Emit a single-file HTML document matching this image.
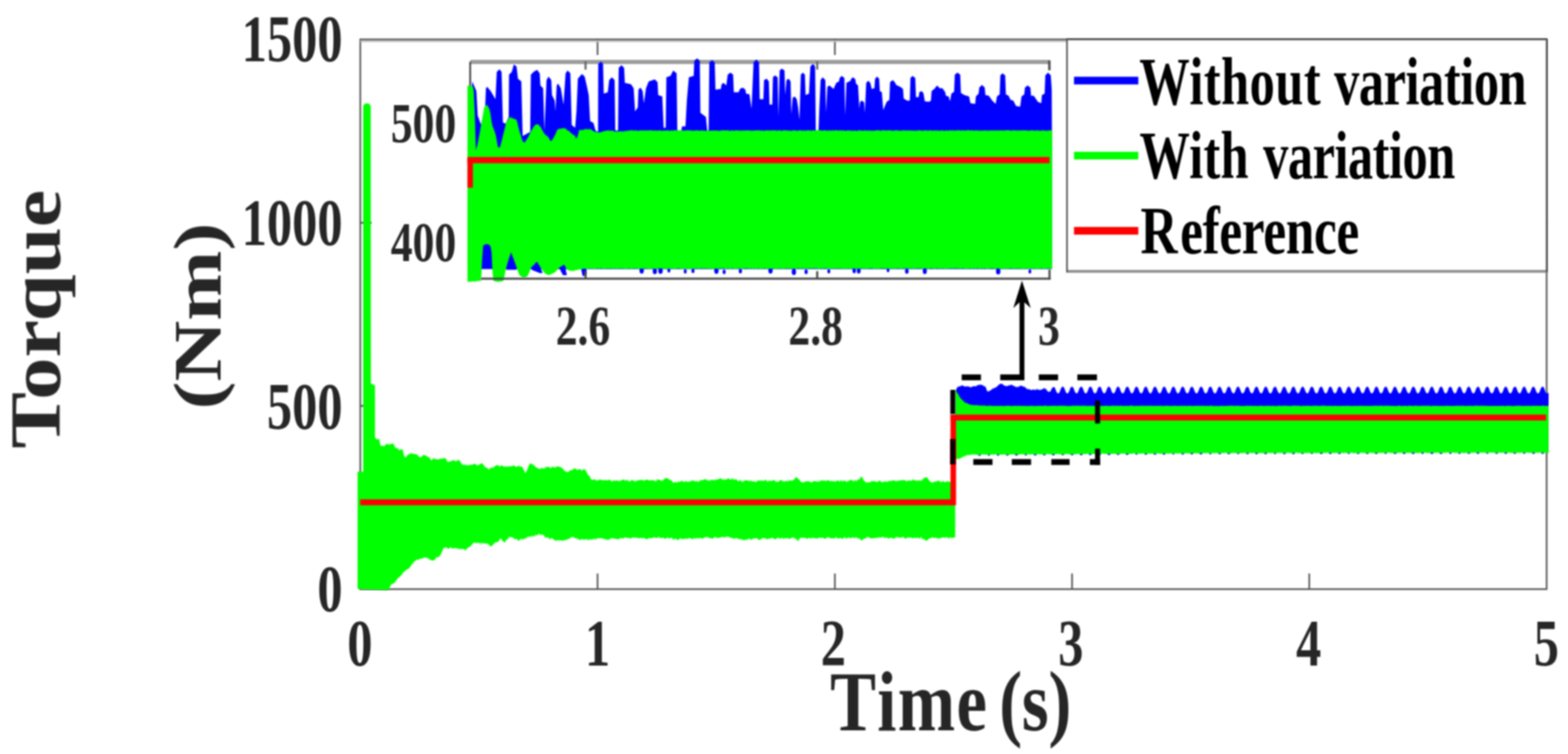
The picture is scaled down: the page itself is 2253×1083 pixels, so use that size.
<!DOCTYPE html>
<html lang="en"><head><meta charset="utf-8"><title>Torque vs Time</title>
<style>html,body{margin:0;padding:0;background:#fff;overflow:hidden}body{width:2253px;height:1083px}</style></head>
<body>
<svg width="2253" height="1083" viewBox="0 0 2253 1083" style="display:block">
<defs>
<filter id="fd" filterUnits="userSpaceOnUse" x="0" y="0" width="2253" height="1083" color-interpolation-filters="sRGB"><feGaussianBlur stdDeviation="0.90"/></filter>
<filter id="fa" filterUnits="userSpaceOnUse" x="0" y="0" width="2253" height="1083" color-interpolation-filters="sRGB"><feGaussianBlur stdDeviation="0.80"/></filter>
<filter id="ft" filterUnits="userSpaceOnUse" x="0" y="0" width="2253" height="1083" color-interpolation-filters="sRGB"><feGaussianBlur stdDeviation="0.90"/></filter>
</defs>
<rect width="2253" height="1083" fill="#fff"/>
<g filter="url(#fa)" fill="none" stroke="#505050" stroke-width="2.3">
<rect x="517.7" y="56.6" width="1704.6" height="789.6"/>
<path d="M858.6,56.6v22.5 M858.6,846.2v-22.5"/>
<path d="M1199.6,56.6v22.5 M1199.6,846.2v-22.5"/>
<path d="M1540.4,56.6v22.5 M1540.4,846.2v-22.5"/>
<path d="M1881.2,56.6v22.5 M1881.2,846.2v-22.5"/>
<path d="M517.7,320.0h16 M2222.3,320.0h-16"/>
<path d="M517.7,583.0h16 M2222.3,583.0h-16"/>
<path d="M517.7,59.3H2222" stroke="#c4c4c4" stroke-width="2.6"/>
</g>
<g filter="url(#fd)">
<path fill="#0000ff" d="M1373.0,562.2 L1374.5,558.2 L1376.0,555.4 L1377.5,555.4 L1379.0,554.8 L1380.5,554.8 L1382.0,553.2 L1383.5,553.8 L1385.0,554.9 L1386.5,554.7 L1388.0,555.4 L1389.5,554.4 L1391.0,555.3 L1392.5,555.2 L1394.0,556.0 L1395.5,556.4 L1397.0,555.0 L1398.5,554.9 L1400.0,554.5 L1401.5,555.1 L1403.0,554.4 L1404.5,553.0 L1406.0,553.6 L1407.5,552.1 L1409.0,553.0 L1410.5,552.7 L1412.0,553.0 L1413.5,554.9 L1415.0,554.4 L1416.5,556.5 L1418.0,560.8 L1419.5,563.0 L1421.0,561.2 L1422.5,561.4 L1424.0,559.8 L1425.5,559.2 L1427.0,557.6 L1428.5,557.9 L1430.0,556.6 L1431.5,556.1 L1433.0,555.0 L1434.5,553.1 L1436.0,552.3 L1437.5,551.0 L1439.0,551.2 L1440.5,551.8 L1442.0,552.9 L1443.5,554.2 L1445.0,554.0 L1446.5,555.0 L1448.0,553.9 L1449.5,553.4 L1451.0,553.7 L1452.5,552.6 L1454.0,552.7 L1455.5,553.7 L1457.0,554.8 L1458.5,554.5 L1460.0,556.8 L1461.5,555.2 L1463.0,555.8 L1464.5,555.5 L1466.0,553.6 L1467.5,554.4 L1469.0,554.2 L1470.5,555.5 L1472.0,555.6 L1473.5,556.7 L1475.0,557.9 L1476.5,559.6 L1478.0,558.5 L1479.5,559.6 L1481.0,560.0 L1482.5,560.2 L1484.0,559.4 L1485.5,559.5 L1487.0,559.9 L1488.0,560.4 L1488.8,558.9 L1489.5,558.4 L1490.2,559.9 L1491.0,558.6 L1491.8,560.1 L1492.5,559.9 L1493.2,559.4 L1494.0,560.6 L1494.8,559.6 L1495.5,560.4 L1496.2,559.4 L1497.0,559.0 L1497.8,559.0 L1498.5,559.2 L1499.2,557.4 L1500.0,557.4 L1500.8,558.0 L1501.5,558.6 L1502.2,558.3 L1503.0,558.6 L1503.8,560.6 L1504.5,560.4 L1505.2,562.4 L1506.0,562.3 L1506.8,562.6 L1507.5,562.7 L1508.2,562.7 L1509.0,562.6 L1509.8,561.1 L1510.5,559.7 L1511.2,558.3 L1512.0,557.0 L1512.8,556.4 L1513.5,555.7 L1514.2,555.8 L1515.0,556.3 L1515.8,557.3 L1516.5,558.7 L1517.2,561.0 L1518.0,562.8 L1518.8,564.0 L1519.5,564.8 L1520.2,565.1 L1521.0,564.9 L1521.8,564.2 L1522.5,563.1 L1523.2,561.5 L1524.0,559.0 L1524.8,557.4 L1525.5,556.2 L1526.2,555.5 L1527.0,555.3 L1527.8,555.6 L1528.5,556.3 L1529.2,557.6 L1530.0,559.3 L1530.8,561.7 L1531.5,563.2 L1532.2,564.3 L1533.0,565.0 L1533.8,565.1 L1534.5,564.7 L1535.2,563.9 L1536.0,562.6 L1536.8,560.8 L1537.5,558.4 L1538.2,556.9 L1539.0,555.9 L1539.8,555.4 L1540.5,555.3 L1541.2,555.8 L1542.0,556.7 L1542.8,558.0 L1543.5,560.1 L1544.2,562.3 L1545.0,563.6 L1545.8,564.6 L1546.5,565.0 L1547.2,565.0 L1548.0,564.5 L1548.8,563.5 L1549.5,562.1 L1550.2,559.8 L1551.0,557.9 L1551.8,556.6 L1552.5,555.7 L1553.2,555.3 L1554.0,555.4 L1554.8,556.0 L1555.5,557.1 L1556.2,558.6 L1557.0,561.0 L1557.8,562.7 L1558.5,564.0 L1559.2,564.8 L1560.0,565.1 L1560.8,564.9 L1561.5,564.2 L1562.2,563.1 L1563.0,561.5 L1563.8,559.1 L1564.5,557.4 L1565.2,556.2 L1566.0,555.5 L1566.8,555.3 L1567.5,555.6 L1568.2,556.3 L1569.0,557.5 L1569.8,559.2 L1570.5,561.6 L1571.2,563.2 L1572.0,564.3 L1572.8,564.9 L1573.5,565.1 L1574.2,564.8 L1575.0,563.9 L1575.8,562.7 L1576.5,560.9 L1577.2,558.5 L1578.0,557.0 L1578.8,556.0 L1579.5,555.4 L1580.2,555.3 L1581.0,555.7 L1581.8,556.6 L1582.5,558.0 L1583.2,559.9 L1584.0,562.2 L1584.8,563.6 L1585.5,564.6 L1586.2,565.0 L1587.0,565.0 L1587.8,564.5 L1588.5,563.6 L1589.2,562.2 L1590.0,559.9 L1590.8,558.0 L1591.5,556.6 L1592.2,555.7 L1593.0,555.3 L1593.8,555.4 L1594.5,556.0 L1595.2,557.0 L1596.0,558.5 L1596.8,560.9 L1597.5,562.7 L1598.2,564.0 L1599.0,564.8 L1599.8,565.1 L1600.5,564.9 L1601.2,564.3 L1602.0,563.2 L1602.8,561.6 L1603.5,559.2 L1604.2,557.5 L1605.0,556.3 L1605.8,555.6 L1606.5,555.3 L1607.2,555.5 L1608.0,556.3 L1608.8,557.4 L1609.5,559.1 L1610.2,561.6 L1611.0,563.1 L1611.8,564.3 L1612.5,564.9 L1613.2,565.1 L1614.0,564.8 L1614.8,564.0 L1615.5,562.7 L1616.2,561.0 L1617.0,558.6 L1617.8,557.0 L1618.5,556.0 L1619.2,555.4 L1620.0,555.3 L1620.8,555.7 L1621.5,556.6 L1622.2,557.9 L1623.0,559.8 L1623.8,562.1 L1624.5,563.5 L1625.2,564.5 L1626.0,565.0 L1626.8,565.0 L1627.5,564.6 L1628.2,563.6 L1629.0,562.2 L1629.8,560.0 L1630.5,558.0 L1631.2,556.7 L1632.0,555.8 L1632.8,555.3 L1633.5,555.4 L1634.2,555.9 L1635.0,557.0 L1635.8,558.4 L1636.5,560.8 L1637.2,562.6 L1638.0,563.9 L1638.8,564.7 L1639.5,565.1 L1640.2,564.9 L1641.0,564.3 L1641.8,563.2 L1642.5,561.7 L1643.2,559.2 L1644.0,557.5 L1644.8,556.3 L1645.5,555.6 L1646.2,555.3 L1647.0,555.5 L1647.8,556.2 L1648.5,557.4 L1649.2,559.0 L1650.0,561.5 L1650.8,563.1 L1651.5,564.2 L1652.2,564.9 L1653.0,565.1 L1653.8,564.8 L1654.5,564.0 L1655.2,562.8 L1656.0,561.0 L1656.8,558.6 L1657.5,557.1 L1658.2,556.0 L1659.0,555.4 L1659.8,555.3 L1660.5,555.7 L1661.2,556.5 L1662.0,557.9 L1662.8,559.7 L1663.5,562.1 L1664.2,563.5 L1665.0,564.5 L1665.8,565.0 L1666.5,565.1 L1667.2,564.6 L1668.0,563.7 L1668.8,562.3 L1669.5,560.2 L1670.2,558.1 L1671.0,556.7 L1671.8,555.8 L1672.5,555.3 L1673.2,555.4 L1674.0,555.9 L1674.8,556.9 L1675.5,558.4 L1676.2,560.7 L1677.0,562.6 L1677.8,563.9 L1678.5,564.7 L1679.2,565.1 L1680.0,565.0 L1680.8,564.4 L1681.5,563.3 L1682.2,561.7 L1683.0,559.3 L1683.8,557.6 L1684.5,556.4 L1685.2,555.6 L1686.0,555.3 L1686.8,555.5 L1687.5,556.2 L1688.2,557.3 L1689.0,558.9 L1689.8,561.4 L1690.5,563.0 L1691.2,564.2 L1692.0,564.9 L1692.8,565.1 L1693.5,564.8 L1694.2,564.1 L1695.0,562.8 L1695.8,561.1 L1696.5,558.7 L1697.2,557.2 L1698.0,556.1 L1698.8,555.4 L1699.5,555.3 L1700.2,555.7 L1701.0,556.5 L1701.8,557.8 L1702.5,559.6 L1703.2,562.0 L1704.0,563.5 L1704.8,564.5 L1705.5,565.0 L1706.2,565.1 L1707.0,564.6 L1707.8,563.7 L1708.5,562.4 L1709.2,560.3 L1710.0,558.1 L1710.8,556.8 L1711.5,555.8 L1712.2,555.4 L1713.0,555.4 L1713.8,555.9 L1714.5,556.9 L1715.2,558.3 L1716.0,560.6 L1716.8,562.5 L1717.5,563.8 L1718.2,564.7 L1719.0,565.1 L1719.8,565.0 L1720.5,564.4 L1721.2,563.3 L1722.0,561.8 L1722.8,559.4 L1723.5,557.7 L1724.2,556.4 L1725.0,555.6 L1725.8,555.3 L1726.5,555.5 L1727.2,556.2 L1728.0,557.3 L1728.8,558.9 L1729.5,561.3 L1730.2,563.0 L1731.0,564.2 L1731.8,564.9 L1732.5,565.1 L1733.2,564.8 L1734.0,564.1 L1734.8,562.9 L1735.5,561.2 L1736.2,558.8 L1737.0,557.2 L1737.8,556.1 L1738.5,555.5 L1739.2,555.3 L1740.0,555.6 L1740.8,556.5 L1741.5,557.7 L1742.2,559.5 L1743.0,561.9 L1743.8,563.4 L1744.5,564.4 L1745.2,565.0 L1746.0,565.1 L1746.8,564.7 L1747.5,563.8 L1748.2,562.4 L1749.0,560.5 L1749.8,558.2 L1750.5,556.8 L1751.2,555.8 L1752.0,555.4 L1752.8,555.4 L1753.5,555.9 L1754.2,556.8 L1755.0,558.2 L1755.8,560.5 L1756.5,562.4 L1757.2,563.8 L1758.0,564.7 L1758.8,565.1 L1759.5,565.0 L1760.2,564.4 L1761.0,563.4 L1761.8,561.9 L1762.5,559.5 L1763.2,557.7 L1764.0,556.4 L1764.8,555.6 L1765.5,555.3 L1766.2,555.5 L1767.0,556.1 L1767.8,557.2 L1768.5,558.8 L1769.2,561.2 L1770.0,562.9 L1770.8,564.1 L1771.5,564.8 L1772.2,565.1 L1773.0,564.9 L1773.8,564.1 L1774.5,563.0 L1775.2,561.3 L1776.0,558.8 L1776.8,557.3 L1777.5,556.1 L1778.2,555.5 L1779.0,555.3 L1779.8,555.6 L1780.5,556.4 L1781.2,557.7 L1782.0,559.4 L1782.8,561.8 L1783.5,563.4 L1784.2,564.4 L1785.0,565.0 L1785.8,565.1 L1786.5,564.7 L1787.2,563.8 L1788.0,562.5 L1788.8,560.6 L1789.5,558.3 L1790.2,556.9 L1791.0,555.9 L1791.8,555.4 L1792.5,555.4 L1793.2,555.8 L1794.0,556.8 L1794.8,558.2 L1795.5,560.4 L1796.2,562.4 L1797.0,563.7 L1797.8,564.6 L1798.5,565.1 L1799.2,565.0 L1800.0,564.5 L1800.8,563.4 L1801.5,562.0 L1802.2,559.6 L1803.0,557.8 L1803.8,556.5 L1804.5,555.7 L1805.2,555.3 L1806.0,555.5 L1806.8,556.1 L1807.5,557.2 L1808.2,558.7 L1809.0,561.2 L1809.8,562.9 L1810.5,564.1 L1811.2,564.8 L1812.0,565.1 L1812.8,564.9 L1813.5,564.2 L1814.2,563.0 L1815.0,561.4 L1815.8,558.9 L1816.5,557.3 L1817.2,556.2 L1818.0,555.5 L1818.8,555.3 L1819.5,555.6 L1820.2,556.4 L1821.0,557.6 L1821.8,559.4 L1822.5,561.8 L1823.2,563.3 L1824.0,564.4 L1824.8,565.0 L1825.5,565.1 L1826.2,564.7 L1827.0,563.9 L1827.8,562.5 L1828.5,560.7 L1829.2,558.3 L1830.0,556.9 L1830.8,555.9 L1831.5,555.4 L1832.2,555.3 L1833.0,555.8 L1833.8,556.7 L1834.5,558.1 L1835.2,560.2 L1836.0,562.3 L1836.8,563.7 L1837.5,564.6 L1838.2,565.1 L1839.0,565.0 L1839.8,564.5 L1840.5,563.5 L1841.2,562.0 L1842.0,559.7 L1842.8,557.8 L1843.5,556.5 L1844.2,555.7 L1845.0,555.3 L1845.8,555.4 L1846.5,556.0 L1847.2,557.1 L1848.0,558.7 L1848.8,561.1 L1849.5,562.8 L1850.2,564.0 L1851.0,564.8 L1851.8,565.1 L1852.5,564.9 L1853.2,564.2 L1854.0,563.1 L1854.8,561.5 L1855.5,559.0 L1856.2,557.4 L1857.0,556.2 L1857.8,555.5 L1858.5,555.3 L1859.2,555.6 L1860.0,556.3 L1860.8,557.6 L1861.5,559.3 L1862.2,561.7 L1863.0,563.2 L1863.8,564.3 L1864.5,565.0 L1865.2,565.1 L1866.0,564.7 L1866.8,563.9 L1867.5,562.6 L1868.2,560.8 L1869.0,558.4 L1869.8,556.9 L1870.5,555.9 L1871.2,555.4 L1872.0,555.3 L1872.8,555.8 L1873.5,556.7 L1874.2,558.0 L1875.0,560.1 L1875.8,562.3 L1876.5,563.6 L1877.2,564.6 L1878.0,565.0 L1878.8,565.0 L1879.5,564.5 L1880.2,563.5 L1881.0,562.1 L1881.8,559.8 L1882.5,557.9 L1883.2,556.6 L1884.0,555.7 L1884.8,555.3 L1885.5,555.4 L1886.2,556.0 L1887.0,557.1 L1887.8,558.6 L1888.5,561.0 L1889.2,562.7 L1890.0,564.0 L1890.8,564.8 L1891.5,565.1 L1892.2,564.9 L1893.0,564.2 L1893.8,563.1 L1894.5,561.5 L1895.2,559.1 L1896.0,557.4 L1896.8,556.2 L1897.5,555.5 L1898.2,555.3 L1899.0,555.6 L1899.8,556.3 L1900.5,557.5 L1901.2,559.2 L1902.0,561.6 L1902.8,563.2 L1903.5,564.3 L1904.2,564.9 L1905.0,565.1 L1905.8,564.8 L1906.5,563.9 L1907.2,562.7 L1908.0,560.9 L1908.8,558.5 L1909.5,557.0 L1910.2,556.0 L1911.0,555.4 L1911.8,555.3 L1912.5,555.7 L1913.2,556.6 L1914.0,558.0 L1914.8,559.9 L1915.5,562.2 L1916.2,563.6 L1917.0,564.6 L1917.8,565.0 L1918.5,565.0 L1919.2,564.5 L1920.0,563.6 L1920.8,562.2 L1921.5,559.9 L1922.2,558.0 L1923.0,556.6 L1923.8,555.7 L1924.5,555.3 L1925.2,555.4 L1926.0,556.0 L1926.8,557.0 L1927.5,558.5 L1928.2,560.9 L1929.0,562.7 L1929.8,564.0 L1930.5,564.8 L1931.2,565.1 L1932.0,564.9 L1932.8,564.3 L1933.5,563.2 L1934.2,561.6 L1935.0,559.2 L1935.8,557.5 L1936.5,556.3 L1937.2,555.6 L1938.0,555.3 L1938.8,555.5 L1939.5,556.3 L1940.2,557.4 L1941.0,559.1 L1941.8,561.6 L1942.5,563.1 L1943.2,564.3 L1944.0,564.9 L1944.8,565.1 L1945.5,564.8 L1946.2,564.0 L1947.0,562.7 L1947.8,561.0 L1948.5,558.6 L1949.2,557.0 L1950.0,556.0 L1950.8,555.4 L1951.5,555.3 L1952.2,555.7 L1953.0,556.6 L1953.8,557.9 L1954.5,559.8 L1955.2,562.1 L1956.0,563.5 L1956.8,564.5 L1957.5,565.0 L1958.2,565.0 L1959.0,564.6 L1959.8,563.6 L1960.5,562.2 L1961.2,560.0 L1962.0,558.0 L1962.8,556.7 L1963.5,555.8 L1964.2,555.3 L1965.0,555.4 L1965.8,555.9 L1966.5,557.0 L1967.2,558.4 L1968.0,560.8 L1968.8,562.6 L1969.5,563.9 L1970.2,564.7 L1971.0,565.1 L1971.8,564.9 L1972.5,564.3 L1973.2,563.2 L1974.0,561.7 L1974.8,559.2 L1975.5,557.5 L1976.2,556.3 L1977.0,555.6 L1977.8,555.3 L1978.5,555.5 L1979.2,556.2 L1980.0,557.4 L1980.8,559.0 L1981.5,561.5 L1982.2,563.1 L1983.0,564.2 L1983.8,564.9 L1984.5,565.1 L1985.2,564.8 L1986.0,564.0 L1986.8,562.8 L1987.5,561.0 L1988.2,558.6 L1989.0,557.1 L1989.8,556.0 L1990.5,555.4 L1991.2,555.3 L1992.0,555.7 L1992.8,556.5 L1993.5,557.9 L1994.2,559.7 L1995.0,562.1 L1995.8,563.5 L1996.5,564.5 L1997.2,565.0 L1998.0,565.1 L1998.8,564.6 L1999.5,563.7 L2000.2,562.3 L2001.0,560.2 L2001.8,558.1 L2002.5,556.7 L2003.2,555.8 L2004.0,555.3 L2004.8,555.4 L2005.5,555.9 L2006.2,556.9 L2007.0,558.4 L2007.8,560.7 L2008.5,562.6 L2009.2,563.9 L2010.0,564.7 L2010.8,565.1 L2011.5,565.0 L2012.2,564.4 L2013.0,563.3 L2013.8,561.7 L2014.5,559.3 L2015.2,557.6 L2016.0,556.4 L2016.8,555.6 L2017.5,555.3 L2018.2,555.5 L2019.0,556.2 L2019.8,557.3 L2020.5,558.9 L2021.2,561.4 L2022.0,563.0 L2022.8,564.2 L2023.5,564.9 L2024.2,565.1 L2025.0,564.8 L2025.8,564.1 L2026.5,562.8 L2027.2,561.1 L2028.0,558.7 L2028.8,557.2 L2029.5,556.1 L2030.2,555.4 L2031.0,555.3 L2031.8,555.7 L2032.5,556.5 L2033.2,557.8 L2034.0,559.6 L2034.8,562.0 L2035.5,563.5 L2036.2,564.5 L2037.0,565.0 L2037.8,565.1 L2038.5,564.6 L2039.2,563.7 L2040.0,562.4 L2040.8,560.3 L2041.5,558.1 L2042.2,556.8 L2043.0,555.8 L2043.8,555.4 L2044.5,555.4 L2045.2,555.9 L2046.0,556.9 L2046.8,558.3 L2047.5,560.6 L2048.2,562.5 L2049.0,563.8 L2049.8,564.7 L2050.5,565.1 L2051.2,565.0 L2052.0,564.4 L2052.8,563.3 L2053.5,561.8 L2054.2,559.4 L2055.0,557.7 L2055.8,556.4 L2056.5,555.6 L2057.2,555.3 L2058.0,555.5 L2058.8,556.2 L2059.5,557.3 L2060.2,558.9 L2061.0,561.3 L2061.8,563.0 L2062.5,564.2 L2063.2,564.9 L2064.0,565.1 L2064.8,564.8 L2065.5,564.1 L2066.2,562.9 L2067.0,561.2 L2067.8,558.8 L2068.5,557.2 L2069.2,556.1 L2070.0,555.5 L2070.8,555.3 L2071.5,555.6 L2072.2,556.5 L2073.0,557.7 L2073.8,559.5 L2074.5,561.9 L2075.2,563.4 L2076.0,564.4 L2076.8,565.0 L2077.5,565.1 L2078.2,564.7 L2079.0,563.8 L2079.8,562.4 L2080.5,560.5 L2081.2,558.2 L2082.0,556.8 L2082.8,555.8 L2083.5,555.4 L2084.2,555.4 L2085.0,555.9 L2085.8,556.8 L2086.5,558.2 L2087.2,560.5 L2088.0,562.4 L2088.8,563.8 L2089.5,564.7 L2090.2,565.1 L2091.0,565.0 L2091.8,564.4 L2092.5,563.4 L2093.2,561.9 L2094.0,559.5 L2094.8,557.7 L2095.5,556.4 L2096.2,555.6 L2097.0,555.3 L2097.8,555.5 L2098.5,556.1 L2099.2,557.2 L2100.0,558.8 L2100.8,561.2 L2101.5,562.9 L2102.2,564.1 L2103.0,564.8 L2103.8,565.1 L2104.5,564.9 L2105.2,564.1 L2106.0,563.0 L2106.8,561.3 L2107.5,558.8 L2108.2,557.3 L2109.0,556.1 L2109.8,555.5 L2110.5,555.3 L2111.2,555.6 L2112.0,556.4 L2112.8,557.7 L2113.5,559.4 L2114.2,561.8 L2115.0,563.4 L2115.8,564.4 L2116.5,565.0 L2117.2,565.1 L2118.0,564.7 L2118.8,563.8 L2119.5,562.5 L2120.2,560.6 L2121.0,558.3 L2121.8,556.9 L2122.5,555.9 L2123.2,555.4 L2124.0,555.4 L2124.8,555.8 L2125.5,556.8 L2126.2,558.2 L2127.0,560.4 L2127.8,562.4 L2128.5,563.7 L2129.2,564.6 L2130.0,565.1 L2130.8,565.0 L2131.5,564.5 L2132.2,563.4 L2133.0,562.0 L2133.8,559.6 L2134.5,557.8 L2135.2,556.5 L2136.0,555.7 L2136.8,555.3 L2137.5,555.5 L2138.2,556.1 L2139.0,557.2 L2139.8,558.7 L2140.5,561.2 L2141.2,562.9 L2142.0,564.1 L2142.8,564.8 L2143.5,565.1 L2144.2,564.9 L2145.0,564.2 L2145.8,563.0 L2146.5,561.4 L2147.2,558.9 L2148.0,557.3 L2148.8,556.2 L2149.5,555.5 L2150.2,555.3 L2151.0,555.6 L2151.8,556.4 L2152.5,557.6 L2153.2,559.4 L2154.0,561.8 L2154.8,563.3 L2155.5,564.4 L2156.2,565.0 L2157.0,565.1 L2157.8,564.7 L2158.5,563.9 L2159.2,562.5 L2160.0,560.7 L2160.8,558.3 L2161.5,556.9 L2162.2,555.9 L2163.0,555.4 L2163.8,555.3 L2164.5,555.8 L2165.2,556.7 L2166.0,558.1 L2166.8,560.2 L2167.5,562.3 L2168.2,563.7 L2169.0,564.6 L2169.8,565.1 L2170.5,565.0 L2171.2,564.5 L2172.0,563.5 L2172.8,562.0 L2173.5,559.7 L2174.2,557.8 L2175.0,556.5 L2175.8,555.7 L2176.5,555.3 L2177.2,555.4 L2178.0,556.0 L2178.8,557.1 L2179.5,558.7 L2180.2,561.1 L2181.0,562.8 L2181.8,564.0 L2182.5,564.8 L2183.2,565.1 L2184.0,564.9 L2184.8,564.2 L2185.5,563.1 L2186.2,561.5 L2187.0,559.0 L2187.8,557.4 L2188.5,556.2 L2189.2,555.5 L2190.0,555.3 L2190.8,555.6 L2191.5,556.3 L2192.2,557.6 L2193.0,559.3 L2193.8,561.7 L2194.5,563.2 L2195.2,564.3 L2196.0,565.0 L2196.8,565.1 L2197.5,564.7 L2198.2,563.9 L2199.0,562.6 L2199.8,560.8 L2200.5,558.4 L2201.2,556.9 L2202.0,555.9 L2202.8,555.4 L2203.5,555.3 L2204.2,555.8 L2205.0,556.7 L2205.8,558.0 L2206.5,560.1 L2207.2,562.3 L2208.0,563.6 L2208.8,564.6 L2209.5,565.0 L2210.2,565.0 L2211.0,564.5 L2211.8,563.5 L2212.5,562.1 L2213.2,559.8 L2214.0,557.9 L2214.8,556.6 L2215.5,555.7 L2216.2,555.3 L2217.0,555.4 L2217.8,556.0 L2218.5,557.1 L2219.2,558.6 L2220.0,561.0 L2220.8,562.7 L2221.5,564.0 L2222.2,564.8 L2223.0,565.1 L2223.8,564.9 L2224.5,564.2 L2225.0,563.5 L2225.0,582.9 L2225.0,649.2 L2224.0,649.2 L2223.0,649.2 L2222.0,649.2 L2221.0,649.2 L2220.0,649.2 L2219.0,649.2 L2218.0,651.7 L2217.0,651.7 L2216.0,651.7 L2215.0,651.7 L2214.0,649.2 L2213.0,649.2 L2212.0,649.2 L2211.0,649.2 L2210.0,649.2 L2209.0,649.2 L2208.0,649.2 L2207.0,649.2 L2206.0,649.2 L2205.0,651.7 L2204.0,651.7 L2203.0,651.7 L2202.0,651.7 L2201.0,649.2 L2200.0,649.2 L2199.0,649.2 L2198.0,649.2 L2197.0,649.2 L2196.0,649.2 L2195.0,649.2 L2194.0,649.2 L2193.0,649.2 L2192.0,649.2 L2191.0,651.7 L2190.0,651.7 L2189.0,651.7 L2188.0,649.2 L2187.0,649.2 L2186.0,649.2 L2185.0,649.3 L2184.0,649.3 L2183.0,649.3 L2182.0,649.3 L2181.0,649.3 L2180.0,649.3 L2179.0,649.3 L2178.0,651.8 L2177.0,651.8 L2176.0,651.8 L2175.0,651.8 L2174.0,649.3 L2173.0,649.3 L2172.0,649.3 L2171.0,649.3 L2170.0,649.3 L2169.0,649.3 L2168.0,649.3 L2167.0,649.3 L2166.0,649.3 L2165.0,651.8 L2164.0,651.8 L2163.0,651.8 L2162.0,651.8 L2161.0,649.3 L2160.0,649.3 L2159.0,649.3 L2158.0,649.3 L2157.0,649.3 L2156.0,649.3 L2155.0,649.3 L2154.0,649.3 L2153.0,649.3 L2152.0,651.8 L2151.0,651.8 L2150.0,651.8 L2149.0,651.8 L2148.0,649.3 L2147.0,649.3 L2146.0,649.3 L2145.0,649.3 L2144.0,649.3 L2143.0,649.3 L2142.0,649.3 L2141.0,649.3 L2140.0,649.3 L2139.0,649.3 L2138.0,651.8 L2137.0,651.8 L2136.0,651.8 L2135.0,649.3 L2134.0,649.3 L2133.0,649.3 L2132.0,649.3 L2131.0,649.3 L2130.0,649.3 L2129.0,649.3 L2128.0,649.3 L2127.0,649.3 L2126.0,649.3 L2125.0,651.8 L2124.0,651.8 L2123.0,651.8 L2122.0,651.8 L2121.0,649.3 L2120.0,649.3 L2119.0,649.3 L2118.0,649.3 L2117.0,649.3 L2116.0,649.3 L2115.0,649.3 L2114.0,649.3 L2113.0,649.3 L2112.0,651.8 L2111.0,651.8 L2110.0,651.8 L2109.0,651.8 L2108.0,649.3 L2107.0,649.3 L2106.0,649.4 L2105.0,649.4 L2104.0,649.4 L2103.0,649.4 L2102.0,649.4 L2101.0,649.4 L2100.0,649.4 L2099.0,649.4 L2098.0,651.9 L2097.0,651.9 L2096.0,651.9 L2095.0,649.4 L2094.0,649.4 L2093.0,649.4 L2092.0,649.4 L2091.0,649.4 L2090.0,649.4 L2089.0,649.4 L2088.0,649.4 L2087.0,649.4 L2086.0,649.4 L2085.0,651.9 L2084.0,651.9 L2083.0,651.9 L2082.0,649.4 L2081.0,649.4 L2080.0,649.4 L2079.0,649.4 L2078.0,649.4 L2077.0,649.4 L2076.0,649.4 L2075.0,649.4 L2074.0,649.4 L2073.0,649.4 L2072.0,651.9 L2071.0,651.9 L2070.0,651.9 L2069.0,651.9 L2068.0,649.4 L2067.0,649.4 L2066.0,649.4 L2065.0,649.4 L2064.0,649.4 L2063.0,649.4 L2062.0,649.4 L2061.0,649.4 L2060.0,649.4 L2059.0,651.9 L2058.0,651.9 L2057.0,651.9 L2056.0,651.9 L2055.0,649.4 L2054.0,649.4 L2053.0,649.4 L2052.0,649.4 L2051.0,649.4 L2050.0,649.4 L2049.0,649.4 L2048.0,649.4 L2047.0,649.4 L2046.0,649.4 L2045.0,651.9 L2044.0,651.9 L2043.0,651.9 L2042.0,649.4 L2041.0,649.4 L2040.0,649.4 L2039.0,649.4 L2038.0,649.4 L2037.0,649.4 L2036.0,649.4 L2035.0,649.4 L2034.0,649.4 L2033.0,649.4 L2032.0,651.9 L2031.0,651.9 L2030.0,651.9 L2029.0,651.9 L2028.0,649.4 L2027.0,649.5 L2026.0,649.5 L2025.0,649.5 L2024.0,649.5 L2023.0,649.5 L2022.0,649.5 L2021.0,649.5 L2020.0,649.5 L2019.0,652.0 L2018.0,652.0 L2017.0,652.0 L2016.0,652.0 L2015.0,649.5 L2014.0,649.5 L2013.0,649.5 L2012.0,649.5 L2011.0,649.5 L2010.0,649.5 L2009.0,649.5 L2008.0,649.5 L2007.0,649.5 L2006.0,652.0 L2005.0,652.0 L2004.0,652.0 L2003.0,652.0 L2002.0,649.5 L2001.0,649.5 L2000.0,649.5 L1999.0,649.5 L1998.0,649.5 L1997.0,649.5 L1996.0,649.5 L1995.0,649.5 L1994.0,649.5 L1993.0,649.5 L1992.0,652.0 L1991.0,652.0 L1990.0,652.0 L1989.0,649.5 L1988.0,649.5 L1987.0,649.5 L1986.0,649.5 L1985.0,649.5 L1984.0,649.5 L1983.0,649.5 L1982.0,649.5 L1981.0,649.5 L1980.0,649.5 L1979.0,652.0 L1978.0,652.0 L1977.0,652.0 L1976.0,652.0 L1975.0,649.5 L1974.0,649.5 L1973.0,649.5 L1972.0,649.5 L1971.0,649.5 L1970.0,649.5 L1969.0,649.5 L1968.0,649.5 L1967.0,649.5 L1966.0,652.0 L1965.0,652.0 L1964.0,652.0 L1963.0,652.0 L1962.0,649.5 L1961.0,649.5 L1960.0,649.5 L1959.0,649.5 L1958.0,649.5 L1957.0,649.5 L1956.0,649.5 L1955.0,649.5 L1954.0,649.5 L1953.0,652.0 L1952.0,652.0 L1951.0,652.0 L1950.0,652.0 L1949.0,649.5 L1948.0,649.5 L1947.0,649.6 L1946.0,649.6 L1945.0,649.6 L1944.0,649.6 L1943.0,649.6 L1942.0,649.6 L1941.0,649.6 L1940.0,649.6 L1939.0,652.1 L1938.0,652.1 L1937.0,652.1 L1936.0,649.6 L1935.0,649.6 L1934.0,649.6 L1933.0,649.6 L1932.0,649.6 L1931.0,649.6 L1930.0,649.6 L1929.0,649.6 L1928.0,649.6 L1927.0,649.6 L1926.0,652.1 L1925.0,652.1 L1924.0,652.1 L1923.0,652.1 L1922.0,649.6 L1921.0,649.6 L1920.0,649.6 L1919.0,649.6 L1918.0,649.6 L1917.0,649.6 L1916.0,649.6 L1915.0,649.6 L1914.0,649.6 L1913.0,652.1 L1912.0,652.1 L1911.0,652.1 L1910.0,652.1 L1909.0,649.6 L1908.0,649.6 L1907.0,649.6 L1906.0,649.6 L1905.0,649.6 L1904.0,649.6 L1903.0,649.6 L1902.0,649.6 L1901.0,649.6 L1900.0,652.1 L1899.0,652.1 L1898.0,652.1 L1897.0,652.1 L1896.0,649.6 L1895.0,649.6 L1894.0,649.6 L1893.0,649.6 L1892.0,649.6 L1891.0,649.6 L1890.0,649.6 L1889.0,649.6 L1888.0,649.6 L1887.0,649.6 L1886.0,652.1 L1885.0,652.1 L1884.0,652.1 L1883.0,649.6 L1882.0,649.6 L1881.0,649.6 L1880.0,649.6 L1879.0,649.6 L1878.0,649.6 L1877.0,649.6 L1876.0,649.6 L1875.0,649.6 L1874.0,649.6 L1873.0,652.1 L1872.0,652.1 L1871.0,652.1 L1870.0,652.1 L1869.0,649.6 L1868.0,649.7 L1867.0,649.7 L1866.0,649.7 L1865.0,649.7 L1864.0,649.7 L1863.0,649.7 L1862.0,649.7 L1861.0,649.7 L1860.0,652.2 L1859.0,652.2 L1858.0,652.2 L1857.0,652.2 L1856.0,649.7 L1855.0,649.7 L1854.0,649.7 L1853.0,649.7 L1852.0,649.7 L1851.0,649.7 L1850.0,649.7 L1849.0,649.7 L1848.0,649.7 L1847.0,652.2 L1846.0,652.2 L1845.0,652.2 L1844.0,652.2 L1843.0,649.7 L1842.0,649.7 L1841.0,649.7 L1840.0,649.7 L1839.0,649.7 L1838.0,649.7 L1837.0,649.7 L1836.0,649.7 L1835.0,649.7 L1834.0,649.7 L1833.0,652.2 L1832.0,652.2 L1831.0,652.2 L1830.0,649.7 L1829.0,649.7 L1828.0,649.7 L1827.0,649.7 L1826.0,649.7 L1825.0,649.7 L1824.0,649.7 L1823.0,649.7 L1822.0,649.7 L1821.0,649.7 L1820.0,652.2 L1819.0,652.2 L1818.0,652.2 L1817.0,652.2 L1816.0,649.7 L1815.0,649.7 L1814.0,649.7 L1813.0,649.7 L1812.0,649.7 L1811.0,649.7 L1810.0,649.7 L1809.0,649.7 L1808.0,649.7 L1807.0,652.2 L1806.0,652.2 L1805.0,652.2 L1804.0,652.2 L1803.0,649.7 L1802.0,649.7 L1801.0,649.7 L1800.0,649.7 L1799.0,649.7 L1798.0,649.7 L1797.0,649.7 L1796.0,649.7 L1795.0,649.7 L1794.0,652.2 L1793.0,652.2 L1792.0,652.2 L1791.0,652.2 L1790.0,649.7 L1789.0,649.8 L1788.0,649.8 L1787.0,649.8 L1786.0,649.8 L1785.0,649.8 L1784.0,649.8 L1783.0,649.8 L1782.0,649.8 L1781.0,649.8 L1780.0,652.3 L1779.0,652.3 L1778.0,652.3 L1777.0,649.8 L1776.0,649.8 L1775.0,649.8 L1774.0,649.8 L1773.0,649.8 L1772.0,649.8 L1771.0,649.8 L1770.0,649.8 L1769.0,649.8 L1768.0,649.8 L1767.0,652.3 L1766.0,652.3 L1765.0,652.3 L1764.0,652.3 L1763.0,649.8 L1762.0,649.8 L1761.0,649.8 L1760.0,649.8 L1759.0,649.8 L1758.0,649.8 L1757.0,649.8 L1756.0,649.8 L1755.0,649.8 L1754.0,652.3 L1753.0,652.3 L1752.0,652.3 L1751.0,652.3 L1750.0,649.8 L1749.0,649.8 L1748.0,649.8 L1747.0,649.8 L1746.0,649.8 L1745.0,649.8 L1744.0,649.8 L1743.0,649.9 L1742.0,649.9 L1741.0,649.9 L1740.0,652.4 L1739.0,652.4 L1738.0,652.4 L1737.0,649.9 L1736.0,649.9 L1735.0,649.9 L1734.0,649.9 L1733.0,649.9 L1732.0,649.9 L1731.0,649.9 L1730.0,649.9 L1729.0,650.0 L1728.0,650.0 L1727.0,652.5 L1726.0,652.5 L1725.0,652.5 L1724.0,652.5 L1723.0,650.0 L1722.0,650.0 L1721.0,650.0 L1720.0,650.0 L1719.0,650.0 L1718.0,650.0 L1717.0,650.0 L1716.0,650.0 L1715.0,650.1 L1714.0,652.6 L1713.0,652.6 L1712.0,652.6 L1711.0,652.6 L1710.0,650.1 L1709.0,650.1 L1708.0,650.1 L1707.0,650.1 L1706.0,650.1 L1705.0,650.1 L1704.0,650.1 L1703.0,650.1 L1702.0,650.1 L1701.0,652.7 L1700.0,652.7 L1699.0,652.7 L1698.0,652.7 L1697.0,650.2 L1696.0,650.2 L1695.0,650.2 L1694.0,650.2 L1693.0,650.2 L1692.0,650.2 L1691.0,650.2 L1690.0,650.2 L1689.0,650.2 L1688.0,650.2 L1687.0,652.8 L1686.0,652.8 L1685.0,652.8 L1684.0,650.3 L1683.0,650.3 L1682.0,650.3 L1681.0,650.3 L1680.0,650.3 L1679.0,650.3 L1678.0,650.3 L1677.0,650.3 L1676.0,650.3 L1675.0,650.3 L1674.0,652.8 L1673.0,652.9 L1672.0,652.9 L1671.0,652.9 L1670.0,650.4 L1669.0,650.4 L1668.0,650.4 L1667.0,650.4 L1666.0,650.4 L1665.0,650.4 L1664.0,650.4 L1663.0,650.4 L1662.0,650.4 L1661.0,652.9 L1660.0,652.9 L1659.0,653.0 L1658.0,653.0 L1657.0,650.5 L1656.0,650.5 L1655.0,650.5 L1654.0,650.5 L1653.0,650.5 L1652.0,650.5 L1651.0,650.5 L1650.0,650.5 L1649.0,650.5 L1648.0,653.0 L1647.0,653.0 L1646.0,653.0 L1645.0,653.1 L1644.0,650.6 L1643.0,650.6 L1642.0,650.6 L1641.0,650.6 L1640.0,650.6 L1639.0,650.6 L1638.0,650.6 L1637.0,650.6 L1636.0,650.6 L1635.0,650.6 L1634.0,653.1 L1633.0,653.1 L1632.0,653.1 L1631.0,650.7 L1630.0,650.7 L1629.0,650.7 L1628.0,650.7 L1627.0,650.7 L1626.0,650.7 L1625.0,650.7 L1624.0,650.7 L1623.0,650.7 L1622.0,650.7 L1621.0,653.2 L1620.0,653.2 L1619.0,653.2 L1618.0,653.3 L1617.0,650.8 L1616.0,650.8 L1615.0,650.8 L1614.0,650.8 L1613.0,650.8 L1612.0,650.8 L1611.0,650.8 L1610.0,650.8 L1609.0,650.8 L1608.0,653.3 L1607.0,653.3 L1606.0,653.3 L1605.0,653.3 L1604.0,650.9 L1603.0,650.9 L1602.0,650.9 L1601.0,650.9 L1600.0,650.9 L1599.0,650.9 L1598.0,650.9 L1597.0,650.9 L1596.0,650.9 L1595.0,653.4 L1594.0,653.4 L1593.0,653.4 L1592.0,653.4 L1591.0,650.9 L1590.0,651.0 L1589.0,651.0 L1588.0,651.0 L1587.0,651.0 L1586.0,651.0 L1585.0,651.0 L1584.0,651.0 L1583.0,651.0 L1582.0,651.0 L1581.0,653.5 L1580.0,653.5 L1579.0,653.5 L1578.0,651.0 L1577.0,651.0 L1576.0,651.1 L1575.0,651.1 L1574.0,651.1 L1573.0,651.1 L1572.0,651.1 L1571.0,651.1 L1570.0,651.1 L1569.0,651.1 L1568.0,653.6 L1567.0,653.6 L1566.0,653.6 L1565.0,653.6 L1564.0,651.1 L1563.0,651.1 L1562.0,651.2 L1561.0,651.2 L1560.0,651.2 L1559.0,651.2 L1558.0,651.2 L1557.0,651.2 L1556.0,651.2 L1555.0,653.7 L1554.0,653.7 L1553.0,653.7 L1552.0,653.7 L1551.0,651.2 L1550.0,651.2 L1549.0,651.2 L1548.0,651.3 L1547.0,651.3 L1546.0,651.3 L1545.0,651.3 L1544.0,651.3 L1543.0,651.3 L1542.0,653.8 L1541.0,653.8 L1540.0,653.8 L1539.0,653.8 L1538.0,651.3 L1537.0,651.3 L1536.0,651.3 L1535.0,651.3 L1534.0,651.4 L1533.0,651.4 L1532.0,651.4 L1531.0,651.4 L1530.0,651.4 L1529.0,651.4 L1528.0,653.9 L1527.0,653.9 L1526.0,653.9 L1525.0,651.4 L1524.0,651.4 L1523.0,651.4 L1522.0,651.4 L1521.0,651.4 L1520.0,651.5 L1519.0,651.5 L1518.0,651.5 L1517.0,651.5 L1516.0,651.5 L1515.0,654.0 L1514.0,654.0 L1513.0,654.0 L1512.0,654.0 L1511.0,651.5 L1510.0,651.5 L1509.0,651.5 L1508.0,651.5 L1507.0,651.5 L1506.0,651.6 L1505.0,651.6 L1504.0,651.6 L1503.0,651.6 L1502.0,654.1 L1501.0,654.1 L1500.0,654.1 L1499.0,654.1 L1498.0,651.6 L1497.0,651.6 L1496.0,651.6 L1495.0,651.6 L1494.0,651.6 L1493.0,651.6 L1492.0,651.6 L1491.0,651.6 L1490.0,651.6 L1489.0,654.1 L1488.0,654.1 L1487.0,654.2 L1486.0,654.2 L1485.0,651.7 L1484.0,651.7 L1483.0,651.7 L1482.0,651.7 L1481.0,651.7 L1480.0,651.7 L1479.0,651.7 L1478.0,651.7 L1477.0,651.7 L1476.0,651.7 L1475.0,654.2 L1474.0,654.2 L1473.0,654.2 L1472.0,651.7 L1471.0,651.7 L1470.0,651.7 L1469.0,651.7 L1468.0,651.7 L1467.0,651.7 L1466.0,651.7 L1465.0,651.7 L1464.0,651.7 L1463.0,651.7 L1462.0,654.3 L1461.0,654.3 L1460.0,654.3 L1459.0,654.3 L1458.0,651.8 L1457.0,651.8 L1456.0,651.8 L1455.0,651.8 L1454.0,651.8 L1453.0,651.8 L1452.0,651.8 L1451.0,651.8 L1450.0,651.8 L1449.0,654.3 L1448.0,654.3 L1447.0,654.3 L1446.0,654.3 L1445.0,651.8 L1444.0,651.8 L1443.0,651.8 L1442.0,651.8 L1441.0,651.8 L1440.0,651.8 L1439.0,651.8 L1438.0,651.8 L1437.0,651.9 L1436.0,651.9 L1435.0,654.4 L1434.0,654.4 L1433.0,654.4 L1432.0,651.9 L1431.0,651.9 L1430.0,651.9 L1429.0,651.9 L1428.0,651.9 L1427.0,651.9 L1426.0,651.9 L1425.0,651.9 L1424.0,651.9 L1423.0,651.9 L1422.0,654.4 L1421.0,654.4 L1420.0,654.4 L1419.0,651.9 L1418.0,651.9 L1417.0,651.9 L1416.0,651.9 L1415.0,651.9 L1414.0,651.9 L1413.0,651.9 L1412.0,652.0 L1411.0,652.0 L1410.0,652.0 L1409.0,654.5 L1408.0,654.5 L1407.0,654.5 L1406.0,654.5 L1405.0,652.0 L1404.0,652.0 L1403.0,652.0 L1402.0,652.0 L1401.0,652.0 L1400.0,652.0 L1399.0,652.1 L1398.0,652.2 L1397.0,652.2 L1396.0,652.3 L1395.0,652.4 L1394.0,652.5 L1393.0,652.6 L1392.0,652.7 L1391.0,652.8 L1390.0,652.8 L1389.0,652.9 L1388.0,653.0 L1387.0,653.5 L1386.0,654.0 L1385.0,654.5 L1384.0,655.0 L1383.0,655.5 L1382.0,656.3 L1381.0,657.2 L1380.0,658.0 L1379.0,658.1 L1378.0,658.2 L1377.0,658.2 L1376.0,658.3 L1375.0,658.4 L1374.0,658.5 L1373.0,658.6Z"/>
<path fill="#00ff00" d="M513.8,846.0 L513.8,677.5 L521.8,677.5 L521.8,153.0 L523.0,150.0 L525.5,148.5 L529.0,148.5 L531.5,150.0 L532.7,153.0 L532.9,550.8 L538.8,553.5 L538.8,628.1 L540.8,630.8 L542.8,631.1 L544.8,630.2 L546.8,640.1 L548.8,640.6 L550.8,640.7 L552.8,640.5 L554.8,637.9 L556.8,637.2 L558.8,639.1 L560.8,637.4 L562.8,637.7 L564.8,636.6 L566.8,640.7 L568.8,643.9 L570.8,643.1 L572.8,646.0 L574.8,646.6 L576.8,644.8 L578.8,646.5 L580.8,655.6 L582.8,657.3 L584.8,654.4 L586.8,652.6 L588.8,652.1 L590.8,650.9 L592.8,651.5 L594.8,652.1 L596.8,652.3 L598.8,652.5 L600.8,654.4 L602.8,656.4 L604.8,656.8 L606.8,655.1 L608.8,653.0 L610.8,654.2 L612.8,654.8 L614.8,656.5 L616.8,656.5 L618.8,660.3 L620.8,660.7 L622.8,658.3 L624.8,658.7 L626.8,659.7 L628.8,659.5 L630.8,660.0 L632.8,658.3 L634.8,659.3 L636.8,658.6 L638.8,657.4 L640.8,658.9 L642.8,663.3 L644.8,663.4 L646.8,662.3 L648.8,662.4 L650.8,660.7 L652.8,661.2 L654.8,662.7 L656.8,661.5 L658.8,660.6 L660.8,661.9 L662.8,665.2 L664.8,668.0 L666.8,667.6 L668.8,667.7 L670.8,667.9 L672.8,668.6 L674.8,667.8 L676.8,667.4 L678.8,667.6 L680.8,666.2 L682.8,666.2 L684.8,668.1 L686.8,668.6 L688.8,667.0 L690.8,666.0 L692.8,665.2 L694.8,667.8 L696.8,670.8 L698.8,671.7 L700.8,672.6 L702.8,674.7 L704.8,671.8 L706.8,671.6 L708.8,672.0 L710.8,669.8 L712.8,668.6 L714.8,668.1 L716.8,669.0 L718.8,670.3 L720.8,667.5 L722.8,669.9 L724.8,670.1 L726.8,670.4 L728.8,670.0 L730.8,670.3 L732.8,669.5 L734.8,669.7 L736.8,669.3 L738.8,668.3 L740.8,670.8 L742.8,670.0 L744.8,668.9 L746.8,669.9 L748.8,669.9 L750.8,671.2 L752.8,675.1 L754.8,679.7 L756.8,676.2 L758.8,671.5 L760.8,666.3 L762.8,665.4 L764.8,667.0 L766.8,667.7 L768.8,669.9 L770.8,671.6 L772.8,672.4 L774.8,673.3 L776.8,673.4 L778.8,671.6 L780.8,673.2 L782.8,672.6 L784.8,670.8 L786.8,670.5 L788.8,670.4 L790.8,672.5 L792.8,670.9 L794.8,670.3 L796.8,671.8 L798.8,670.8 L800.8,669.9 L802.8,670.1 L804.8,671.1 L806.8,671.4 L808.8,673.3 L810.8,676.1 L812.8,676.9 L814.8,678.1 L816.8,677.8 L818.8,675.4 L820.8,675.5 L822.8,674.6 L824.8,672.9 L826.8,672.7 L828.8,675.3 L830.8,674.3 L832.8,673.5 L834.8,674.9 L836.8,675.7 L838.8,673.5 L840.8,674.7 L842.8,677.8 L844.8,682.3 L846.8,683.3 L848.8,687.7 L850.8,689.3 L852.8,689.0 L854.8,688.2 L856.8,690.5 L858.8,690.1 L860.8,689.3 L862.8,688.6 L864.8,689.9 L866.8,689.3 L868.8,689.9 L870.8,689.3 L872.8,690.3 L874.8,688.7 L876.8,689.4 L878.8,691.4 L880.8,691.1 L882.8,689.4 L884.8,691.1 L886.8,689.4 L888.8,691.3 L890.8,690.7 L892.8,689.7 L894.8,689.3 L896.8,688.5 L898.8,691.1 L900.8,688.6 L902.8,691.0 L904.8,691.4 L906.8,690.2 L908.8,689.0 L910.8,691.1 L912.8,691.4 L914.8,690.6 L916.8,690.0 L918.8,689.6 L920.8,689.5 L922.8,689.1 L924.8,690.5 L926.8,689.8 L928.8,689.1 L930.8,688.8 L932.8,690.5 L934.8,689.4 L936.8,690.0 L938.8,689.5 L940.8,691.1 L942.8,691.2 L944.8,688.6 L946.8,689.1 L948.8,689.5 L950.8,691.1 L952.8,689.7 L954.8,687.6 L956.8,686.4 L958.8,687.0 L960.8,687.7 L962.8,689.7 L964.8,689.7 L966.8,693.0 L968.8,693.0 L970.8,692.3 L972.8,693.6 L974.8,691.3 L976.8,692.6 L978.8,690.6 L980.8,690.7 L982.8,692.8 L984.8,690.6 L986.8,692.1 L988.8,691.5 L990.8,692.1 L992.8,690.6 L994.8,690.4 L996.8,690.1 L998.8,691.7 L1000.8,690.8 L1002.8,691.7 L1004.8,691.4 L1006.8,689.0 L1008.8,690.2 L1010.8,688.7 L1012.8,688.4 L1014.8,688.4 L1016.8,690.6 L1018.8,690.3 L1020.8,690.3 L1022.8,688.7 L1024.8,689.4 L1026.8,689.8 L1028.8,688.4 L1030.8,688.9 L1032.8,687.7 L1034.8,687.2 L1036.8,687.6 L1038.8,689.4 L1040.8,688.3 L1042.8,689.2 L1044.8,687.7 L1046.8,687.0 L1048.8,688.4 L1050.8,688.7 L1052.8,686.8 L1054.8,689.4 L1056.8,688.2 L1058.8,688.8 L1060.8,691.7 L1062.8,689.6 L1064.8,690.2 L1066.8,692.4 L1068.8,690.7 L1070.8,689.8 L1072.8,689.9 L1074.8,690.1 L1076.8,691.6 L1078.8,689.7 L1080.8,692.1 L1082.8,690.5 L1084.8,692.3 L1086.8,692.1 L1088.8,690.2 L1090.8,690.1 L1092.8,690.7 L1094.8,689.6 L1096.8,691.2 L1098.8,689.4 L1100.8,689.3 L1102.8,692.2 L1104.8,690.1 L1106.8,691.0 L1108.8,690.6 L1110.8,690.1 L1112.8,689.4 L1114.8,691.9 L1116.8,692.1 L1118.8,692.0 L1120.8,689.5 L1122.8,689.8 L1124.8,691.0 L1126.8,692.0 L1128.8,690.7 L1130.8,691.1 L1132.8,691.0 L1134.8,689.8 L1136.8,690.6 L1138.8,689.9 L1140.8,688.9 L1142.8,686.4 L1144.8,685.0 L1146.8,688.1 L1148.8,689.0 L1150.8,692.2 L1152.8,692.4 L1154.8,693.2 L1156.8,691.5 L1158.8,691.2 L1160.8,691.2 L1162.8,691.2 L1164.8,692.7 L1166.8,692.8 L1168.8,691.0 L1170.8,691.0 L1172.8,691.6 L1174.8,691.6 L1176.8,691.7 L1178.8,690.5 L1180.8,689.8 L1182.8,690.4 L1184.8,689.9 L1186.8,691.3 L1188.8,689.8 L1190.8,689.7 L1192.8,691.4 L1194.8,690.3 L1196.8,691.7 L1198.8,690.8 L1200.8,691.9 L1202.8,689.7 L1204.8,690.7 L1206.8,691.5 L1208.8,689.3 L1210.8,691.9 L1212.8,689.5 L1214.8,691.3 L1216.8,691.8 L1218.8,691.3 L1220.8,689.7 L1222.8,689.0 L1224.8,690.2 L1226.8,691.4 L1228.8,689.5 L1230.8,691.2 L1232.8,688.3 L1234.8,688.9 L1236.8,684.6 L1238.8,685.4 L1240.8,689.5 L1242.8,691.5 L1244.8,693.2 L1246.8,693.0 L1248.8,692.6 L1250.8,692.4 L1252.8,690.8 L1254.8,691.5 L1256.8,690.7 L1258.8,692.3 L1260.8,692.1 L1262.8,690.8 L1264.8,690.2 L1266.8,692.8 L1268.8,692.3 L1270.8,691.5 L1272.8,691.4 L1274.8,692.3 L1276.8,691.0 L1278.8,690.8 L1280.8,690.6 L1282.8,690.3 L1284.8,689.6 L1286.8,691.4 L1288.8,690.6 L1290.8,691.0 L1292.8,689.5 L1294.8,690.3 L1296.8,689.6 L1298.8,689.5 L1300.8,689.9 L1302.8,691.5 L1304.8,690.2 L1306.8,690.1 L1308.8,690.7 L1310.8,689.5 L1312.8,688.8 L1314.8,690.3 L1316.8,690.2 L1318.8,690.6 L1320.8,689.9 L1322.8,690.6 L1324.8,690.1 L1326.8,687.1 L1328.8,686.3 L1330.8,685.3 L1332.8,686.7 L1334.8,689.4 L1336.8,692.0 L1338.8,693.2 L1340.8,693.1 L1342.8,691.2 L1344.8,692.2 L1346.8,690.4 L1348.8,690.4 L1350.8,691.6 L1352.8,692.7 L1354.8,690.5 L1356.8,692.2 L1358.8,692.5 L1360.8,690.8 L1362.8,691.9 L1364.8,692.3 L1366.8,690.8 L1368.8,691.7 L1370.8,691.8 L1372.5,691.3 L1372.5,559.8 L1374.5,562.9 L1376.5,565.8 L1378.5,569.4 L1380.5,572.6 L1382.5,574.2 L1384.5,576.2 L1386.5,578.4 L1388.5,578.8 L1390.5,579.6 L1392.5,580.8 L1394.5,581.3 L1396.5,581.8 L1398.5,581.7 L1400.5,581.9 L1402.5,581.7 L1404.5,582.1 L1406.5,582.4 L1408.5,582.3 L1410.5,582.5 L1412.5,582.6 L1414.5,582.3 L1416.5,582.9 L1418.5,582.9 L1420.5,582.8 L1422.5,582.6 L1424.5,583.1 L1426.5,582.9 L1428.5,583.0 L1430.5,583.1 L1432.5,583.0 L1434.5,583.2 L1436.5,582.8 L1438.5,583.1 L1440.5,582.9 L1442.5,583.2 L1444.5,583.1 L1446.5,582.7 L1448.5,582.7 L1450.5,582.7 L1452.5,583.2 L1454.5,582.9 L1456.5,583.0 L1458.5,582.8 L1460.5,582.9 L1462.5,582.8 L1464.5,582.8 L1466.5,583.0 L1468.5,583.0 L1470.5,583.1 L1472.5,583.0 L1474.5,583.2 L1476.5,583.1 L1478.5,583.2 L1480.5,583.0 L1482.5,582.7 L1484.5,583.1 L1486.5,583.2 L1488.5,583.1 L1490.5,582.9 L1492.5,583.0 L1494.5,582.7 L1496.5,583.1 L1498.5,582.9 L1500.5,582.8 L1502.5,582.6 L1504.5,583.1 L1506.5,583.2 L1508.5,582.7 L1510.5,583.1 L1512.5,582.8 L1514.5,582.7 L1516.5,582.8 L1518.5,583.1 L1520.5,583.1 L1522.5,582.6 L1524.5,583.0 L1526.5,582.6 L1528.5,583.0 L1530.5,582.8 L1532.5,583.1 L1534.5,583.2 L1536.5,582.9 L1538.5,583.2 L1540.5,582.8 L1542.5,582.6 L1544.5,583.0 L1546.5,582.6 L1548.5,582.7 L1550.5,582.8 L1552.5,583.0 L1554.5,582.7 L1556.5,582.6 L1558.5,583.1 L1560.5,582.8 L1562.5,583.2 L1564.5,583.1 L1566.5,582.8 L1568.5,582.9 L1570.5,582.9 L1572.5,583.0 L1574.5,583.0 L1576.5,582.9 L1578.5,583.0 L1580.5,583.2 L1582.5,582.9 L1584.5,582.9 L1586.5,583.0 L1588.5,582.7 L1590.5,582.8 L1592.5,583.2 L1594.5,582.9 L1596.5,582.9 L1598.5,582.6 L1600.5,582.8 L1602.5,582.9 L1604.5,582.6 L1606.5,583.0 L1608.5,583.0 L1610.5,582.6 L1612.5,583.0 L1614.5,582.9 L1616.5,583.0 L1618.5,582.8 L1620.5,583.0 L1622.5,583.0 L1624.5,582.6 L1626.5,582.6 L1628.5,583.0 L1630.5,583.2 L1632.5,582.8 L1634.5,582.9 L1636.5,583.0 L1638.5,582.8 L1640.5,582.8 L1642.5,582.8 L1644.5,582.8 L1646.5,583.0 L1648.5,582.8 L1650.5,582.8 L1652.5,583.1 L1654.5,582.6 L1656.5,582.9 L1658.5,583.0 L1660.5,582.8 L1662.5,582.7 L1664.5,583.1 L1666.5,582.7 L1668.5,582.7 L1670.5,582.9 L1672.5,583.0 L1674.5,582.7 L1676.5,582.8 L1678.5,582.8 L1680.5,583.1 L1682.5,582.9 L1684.5,583.1 L1686.5,582.7 L1688.5,582.8 L1690.5,583.0 L1692.5,583.1 L1694.5,582.9 L1696.5,582.7 L1698.5,582.7 L1700.5,582.9 L1702.5,582.7 L1704.5,583.1 L1706.5,583.1 L1708.5,582.7 L1710.5,582.8 L1712.5,583.1 L1714.5,583.0 L1716.5,583.1 L1718.5,582.8 L1720.5,582.7 L1722.5,582.8 L1724.5,583.1 L1726.5,582.8 L1728.5,582.8 L1730.5,582.9 L1732.5,582.9 L1734.5,582.8 L1736.5,583.2 L1738.5,582.7 L1740.5,582.6 L1742.5,583.2 L1744.5,583.1 L1746.5,583.2 L1748.5,582.9 L1750.5,583.2 L1752.5,583.2 L1754.5,582.7 L1756.5,583.0 L1758.5,583.1 L1760.5,583.0 L1762.5,582.9 L1764.5,582.8 L1766.5,582.8 L1768.5,582.7 L1770.5,582.6 L1772.5,583.0 L1774.5,582.8 L1776.5,583.1 L1778.5,582.6 L1780.5,583.1 L1782.5,583.0 L1784.5,583.2 L1786.5,583.1 L1788.5,583.1 L1790.5,582.9 L1792.5,582.6 L1794.5,583.0 L1796.5,582.7 L1798.5,582.8 L1800.5,583.0 L1802.5,582.9 L1804.5,582.8 L1806.5,583.2 L1808.5,583.0 L1810.5,582.8 L1812.5,582.8 L1814.5,583.1 L1816.5,582.9 L1818.5,583.1 L1820.5,582.8 L1822.5,582.7 L1824.5,582.9 L1826.5,583.1 L1828.5,582.7 L1830.5,583.1 L1832.5,583.2 L1834.5,583.1 L1836.5,583.1 L1838.5,582.6 L1840.5,583.0 L1842.5,583.1 L1844.5,582.6 L1846.5,582.8 L1848.5,582.8 L1850.5,582.9 L1852.5,582.9 L1854.5,582.9 L1856.5,583.1 L1858.5,582.6 L1860.5,582.6 L1862.5,582.7 L1864.5,582.7 L1866.5,582.6 L1868.5,583.2 L1870.5,583.1 L1872.5,582.7 L1874.5,582.9 L1876.5,582.8 L1878.5,582.8 L1880.5,582.8 L1882.5,583.0 L1884.5,583.0 L1886.5,582.8 L1888.5,582.7 L1890.5,582.8 L1892.5,582.7 L1894.5,582.9 L1896.5,583.0 L1898.5,582.8 L1900.5,582.6 L1902.5,582.7 L1904.5,582.8 L1906.5,583.0 L1908.5,583.1 L1910.5,582.8 L1912.5,583.1 L1914.5,583.0 L1916.5,582.9 L1918.5,582.8 L1920.5,582.9 L1922.5,583.0 L1924.5,582.9 L1926.5,583.0 L1928.5,582.9 L1930.5,582.7 L1932.5,582.9 L1934.5,583.0 L1936.5,582.6 L1938.5,582.9 L1940.5,582.9 L1942.5,583.1 L1944.5,583.2 L1946.5,582.8 L1948.5,583.1 L1950.5,583.1 L1952.5,582.8 L1954.5,582.9 L1956.5,582.7 L1958.5,583.1 L1960.5,583.0 L1962.5,583.1 L1964.5,583.1 L1966.5,583.0 L1968.5,583.0 L1970.5,582.9 L1972.5,582.7 L1974.5,583.0 L1976.5,582.6 L1978.5,582.7 L1980.5,583.1 L1982.5,582.6 L1984.5,582.7 L1986.5,582.7 L1988.5,583.1 L1990.5,582.7 L1992.5,582.6 L1994.5,583.1 L1996.5,582.7 L1998.5,583.1 L2000.5,583.0 L2002.5,583.1 L2004.5,583.2 L2006.5,582.9 L2008.5,583.1 L2010.5,582.6 L2012.5,583.1 L2014.5,582.9 L2016.5,583.0 L2018.5,582.7 L2020.5,583.0 L2022.5,583.2 L2024.5,582.6 L2026.5,582.8 L2028.5,582.9 L2030.5,583.1 L2032.5,582.7 L2034.5,582.7 L2036.5,582.7 L2038.5,583.0 L2040.5,583.1 L2042.5,582.8 L2044.5,582.8 L2046.5,582.8 L2048.5,582.8 L2050.5,582.9 L2052.5,582.6 L2054.5,582.9 L2056.5,583.2 L2058.5,582.8 L2060.5,583.0 L2062.5,582.7 L2064.5,583.0 L2066.5,583.1 L2068.5,583.0 L2070.5,582.9 L2072.5,582.9 L2074.5,583.0 L2076.5,583.1 L2078.5,582.7 L2080.5,582.7 L2082.5,583.0 L2084.5,583.1 L2086.5,582.9 L2088.5,582.9 L2090.5,583.0 L2092.5,582.7 L2094.5,582.8 L2096.5,582.7 L2098.5,583.0 L2100.5,582.8 L2102.5,582.7 L2104.5,583.0 L2106.5,583.2 L2108.5,582.8 L2110.5,583.0 L2112.5,582.8 L2114.5,583.1 L2116.5,583.0 L2118.5,582.8 L2120.5,582.7 L2122.5,582.6 L2124.5,582.9 L2126.5,582.8 L2128.5,582.7 L2130.5,582.8 L2132.5,582.8 L2134.5,583.1 L2136.5,582.7 L2138.5,583.2 L2140.5,582.9 L2142.5,583.0 L2144.5,582.9 L2146.5,583.1 L2148.5,583.1 L2150.5,582.9 L2152.5,582.9 L2154.5,583.0 L2156.5,583.1 L2158.5,582.8 L2160.5,583.0 L2162.5,583.2 L2164.5,582.9 L2166.5,582.7 L2168.5,582.7 L2170.5,583.0 L2172.5,583.0 L2174.5,583.2 L2176.5,583.1 L2178.5,582.7 L2180.5,582.7 L2182.5,582.8 L2184.5,582.7 L2186.5,583.0 L2188.5,583.1 L2190.5,583.1 L2192.5,582.8 L2194.5,583.1 L2196.5,582.8 L2198.5,582.9 L2200.5,583.0 L2202.5,582.7 L2204.5,582.7 L2206.5,583.1 L2208.5,582.8 L2210.5,582.8 L2212.5,582.9 L2214.5,583.0 L2216.5,582.6 L2218.5,582.8 L2220.5,582.9 L2222.5,582.9 L2224.5,582.7 L2225.0,583.0 L2225.0,650.5 L2224.5,650.5 L2222.5,650.5 L2220.5,650.5 L2218.5,650.1 L2216.5,650.3 L2214.5,650.5 L2212.5,650.1 L2210.5,650.3 L2208.5,650.5 L2206.5,650.0 L2204.5,650.3 L2202.5,649.9 L2200.5,650.3 L2198.5,650.6 L2196.5,650.4 L2194.5,650.1 L2192.5,650.6 L2190.5,650.3 L2188.5,649.9 L2186.5,650.3 L2184.5,650.5 L2182.5,650.5 L2180.5,650.2 L2178.5,650.6 L2176.5,650.6 L2174.5,650.4 L2172.5,650.7 L2170.5,650.5 L2168.5,650.0 L2166.5,650.4 L2164.5,650.3 L2162.5,650.3 L2160.5,650.1 L2158.5,650.5 L2156.5,650.6 L2154.5,650.0 L2152.5,650.0 L2150.5,650.7 L2148.5,649.9 L2146.5,650.6 L2144.5,649.9 L2142.5,650.2 L2140.5,650.2 L2138.5,650.2 L2136.5,650.6 L2134.5,650.5 L2132.5,650.2 L2130.5,650.1 L2128.5,650.6 L2126.5,650.1 L2124.5,650.0 L2122.5,650.3 L2120.5,650.6 L2118.5,650.1 L2116.5,650.3 L2114.5,650.4 L2112.5,650.5 L2110.5,650.5 L2108.5,650.4 L2106.5,650.5 L2104.5,650.7 L2102.5,650.7 L2100.5,650.5 L2098.5,650.5 L2096.5,650.5 L2094.5,650.7 L2092.5,650.2 L2090.5,650.8 L2088.5,650.0 L2086.5,650.1 L2084.5,650.2 L2082.5,650.0 L2080.5,650.1 L2078.5,650.1 L2076.5,650.4 L2074.5,650.2 L2072.5,650.8 L2070.5,650.4 L2068.5,650.5 L2066.5,650.6 L2064.5,650.1 L2062.5,650.8 L2060.5,650.2 L2058.5,650.2 L2056.5,650.1 L2054.5,650.6 L2052.5,650.7 L2050.5,650.8 L2048.5,650.2 L2046.5,650.2 L2044.5,650.1 L2042.5,650.3 L2040.5,650.5 L2038.5,650.8 L2036.5,650.8 L2034.5,650.8 L2032.5,650.1 L2030.5,650.2 L2028.5,650.5 L2026.5,650.8 L2024.5,650.3 L2022.5,650.5 L2020.5,650.6 L2018.5,650.5 L2016.5,650.2 L2014.5,650.1 L2012.5,650.4 L2010.5,650.3 L2008.5,650.7 L2006.5,650.4 L2004.5,650.4 L2002.5,650.8 L2000.5,650.9 L1998.5,650.6 L1996.5,650.3 L1994.5,650.3 L1992.5,650.3 L1990.5,650.7 L1988.5,650.8 L1986.5,650.6 L1984.5,650.4 L1982.5,650.8 L1980.5,650.4 L1978.5,650.8 L1976.5,650.6 L1974.5,650.7 L1972.5,650.7 L1970.5,650.6 L1968.5,650.2 L1966.5,650.9 L1964.5,650.7 L1962.5,650.9 L1960.5,650.6 L1958.5,650.5 L1956.5,650.6 L1954.5,650.3 L1952.5,650.9 L1950.5,650.8 L1948.5,650.8 L1946.5,650.8 L1944.5,650.9 L1942.5,650.2 L1940.5,650.2 L1938.5,650.4 L1936.5,650.4 L1934.5,650.7 L1932.5,650.3 L1930.5,650.9 L1928.5,650.5 L1926.5,650.3 L1924.5,650.7 L1922.5,650.5 L1920.5,650.6 L1918.5,650.5 L1916.5,650.9 L1914.5,650.3 L1912.5,650.8 L1910.5,650.3 L1908.5,650.3 L1906.5,650.3 L1904.5,650.7 L1902.5,650.5 L1900.5,650.8 L1898.5,650.3 L1896.5,650.6 L1894.5,650.7 L1892.5,650.8 L1890.5,650.9 L1888.5,650.5 L1886.5,651.0 L1884.5,650.6 L1882.5,651.0 L1880.5,650.5 L1878.5,650.7 L1876.5,650.8 L1874.5,650.7 L1872.5,651.0 L1870.5,650.9 L1868.5,650.5 L1866.5,650.9 L1864.5,650.5 L1862.5,650.3 L1860.5,650.6 L1858.5,650.8 L1856.5,650.7 L1854.5,650.7 L1852.5,650.5 L1850.5,650.3 L1848.5,650.8 L1846.5,651.0 L1844.5,650.7 L1842.5,650.6 L1840.5,650.7 L1838.5,650.4 L1836.5,650.4 L1834.5,651.0 L1832.5,650.4 L1830.5,650.9 L1828.5,650.6 L1826.5,651.0 L1824.5,650.5 L1822.5,650.5 L1820.5,651.0 L1818.5,650.4 L1816.5,650.9 L1814.5,651.0 L1812.5,650.7 L1810.5,650.7 L1808.5,651.0 L1806.5,650.8 L1804.5,650.4 L1802.5,650.4 L1800.5,651.1 L1798.5,650.7 L1796.5,650.5 L1794.5,650.6 L1792.5,651.0 L1790.5,650.7 L1788.5,650.8 L1786.5,650.4 L1784.5,651.0 L1782.5,651.0 L1780.5,650.4 L1778.5,650.8 L1776.5,651.0 L1774.5,650.7 L1772.5,650.5 L1770.5,650.9 L1768.5,651.1 L1766.5,650.8 L1764.5,650.9 L1762.5,650.4 L1760.5,650.4 L1758.5,650.8 L1756.5,650.8 L1754.5,651.0 L1752.5,651.1 L1750.5,650.7 L1748.5,650.9 L1746.5,650.6 L1744.5,651.1 L1742.5,650.9 L1740.5,651.2 L1738.5,651.1 L1736.5,651.1 L1734.5,650.6 L1732.5,651.2 L1730.5,650.6 L1728.5,651.3 L1726.5,650.6 L1724.5,650.8 L1722.5,651.3 L1720.5,651.2 L1718.5,651.1 L1716.5,651.1 L1714.5,650.8 L1712.5,650.7 L1710.5,651.2 L1708.5,651.5 L1706.5,650.8 L1704.5,651.4 L1702.5,650.8 L1700.5,651.3 L1698.5,651.5 L1696.5,651.6 L1694.5,650.9 L1692.5,651.6 L1690.5,651.6 L1688.5,651.1 L1686.5,651.4 L1684.5,651.4 L1682.5,651.3 L1680.5,651.6 L1678.5,651.4 L1676.5,651.6 L1674.5,651.5 L1672.5,651.2 L1670.5,651.7 L1668.5,651.7 L1666.5,651.7 L1664.5,651.2 L1662.5,651.1 L1660.5,651.4 L1658.5,651.7 L1656.5,651.7 L1654.5,651.6 L1652.5,651.8 L1650.5,651.4 L1648.5,651.9 L1646.5,651.6 L1644.5,651.9 L1642.5,651.2 L1640.5,651.3 L1638.5,651.9 L1636.5,651.4 L1634.5,651.4 L1632.5,651.4 L1630.5,651.5 L1628.5,651.3 L1626.5,651.7 L1624.5,652.0 L1622.5,652.0 L1620.5,651.5 L1618.5,651.7 L1616.5,651.4 L1614.5,651.7 L1612.5,651.6 L1610.5,651.8 L1608.5,652.2 L1606.5,651.8 L1604.5,652.1 L1602.5,651.9 L1600.5,651.6 L1598.5,652.3 L1596.5,651.7 L1594.5,651.9 L1592.5,651.6 L1590.5,651.7 L1588.5,652.1 L1586.5,651.7 L1584.5,651.6 L1582.5,651.7 L1580.5,651.8 L1578.5,652.0 L1576.5,652.4 L1574.5,651.7 L1572.5,651.9 L1570.5,652.0 L1568.5,652.3 L1566.5,651.9 L1564.5,651.8 L1562.5,651.8 L1560.5,652.0 L1558.5,652.5 L1556.5,652.1 L1554.5,651.9 L1552.5,652.2 L1550.5,652.0 L1548.5,652.1 L1546.5,652.5 L1544.5,652.4 L1542.5,652.6 L1540.5,652.2 L1538.5,652.5 L1536.5,652.7 L1534.5,652.2 L1532.5,652.0 L1530.5,652.7 L1528.5,652.6 L1526.5,652.8 L1524.5,652.7 L1522.5,652.6 L1520.5,652.1 L1518.5,652.4 L1516.5,652.2 L1514.5,652.4 L1512.5,652.3 L1510.5,652.6 L1508.5,652.8 L1506.5,652.3 L1504.5,652.2 L1502.5,652.3 L1500.5,652.9 L1498.5,652.7 L1496.5,652.5 L1494.5,652.8 L1492.5,652.5 L1490.5,652.5 L1488.5,652.8 L1486.5,652.4 L1484.5,652.6 L1482.5,652.4 L1480.5,653.1 L1478.5,652.6 L1476.5,652.7 L1474.5,652.7 L1472.5,652.5 L1470.5,652.8 L1468.5,652.4 L1466.5,652.4 L1464.5,653.0 L1462.5,652.6 L1460.5,652.5 L1458.5,652.7 L1456.5,652.9 L1454.5,652.7 L1452.5,652.8 L1450.5,653.1 L1448.5,653.1 L1446.5,652.9 L1444.5,653.1 L1442.5,652.7 L1440.5,652.9 L1438.5,653.1 L1436.5,653.2 L1434.5,652.5 L1432.5,652.8 L1430.5,652.6 L1428.5,652.9 L1426.5,653.0 L1424.5,653.0 L1422.5,652.6 L1420.5,653.2 L1418.5,653.2 L1416.5,653.1 L1414.5,653.0 L1412.5,652.8 L1410.5,652.7 L1408.5,653.2 L1406.5,653.2 L1404.5,653.2 L1402.5,653.3 L1400.5,652.8 L1398.5,652.8 L1396.5,653.0 L1394.5,653.3 L1392.5,653.7 L1390.5,653.6 L1388.5,654.2 L1386.5,655.0 L1384.5,656.1 L1382.5,656.8 L1380.5,658.2 L1378.5,658.8 L1376.5,659.2 L1374.5,659.1 L1372.5,659.4 L1372.5,772.0 L1371.5,772.1 L1369.5,772.1 L1367.5,773.5 L1365.5,771.3 L1363.5,773.9 L1361.5,771.8 L1359.5,771.7 L1357.5,772.4 L1355.5,771.7 L1353.5,771.9 L1351.5,772.9 L1349.5,773.4 L1347.5,773.6 L1345.5,772.6 L1343.5,772.2 L1341.5,772.9 L1339.5,771.3 L1337.5,773.5 L1335.5,773.1 L1333.5,775.1 L1331.5,776.8 L1329.5,776.3 L1327.5,774.1 L1325.5,774.4 L1323.5,771.2 L1321.5,773.7 L1319.5,772.6 L1317.5,772.5 L1315.5,772.9 L1313.5,771.9 L1311.5,773.6 L1309.5,772.3 L1307.5,772.1 L1305.5,772.6 L1303.5,772.1 L1301.5,773.9 L1299.5,772.7 L1297.5,771.0 L1295.5,771.9 L1293.5,772.4 L1291.5,772.1 L1289.5,771.5 L1287.5,771.4 L1285.5,773.6 L1283.5,773.4 L1281.5,773.0 L1279.5,772.2 L1277.5,773.4 L1275.5,773.3 L1273.5,771.5 L1271.5,773.3 L1269.5,771.2 L1267.5,771.1 L1265.5,772.5 L1263.5,771.8 L1261.5,772.0 L1259.5,773.0 L1257.5,772.5 L1255.5,773.3 L1253.5,773.0 L1251.5,773.5 L1249.5,772.5 L1247.5,771.0 L1245.5,771.2 L1243.5,774.2 L1241.5,773.3 L1239.5,775.4 L1237.5,776.4 L1235.5,774.1 L1233.5,773.3 L1231.5,772.8 L1229.5,771.4 L1227.5,773.4 L1225.5,771.6 L1223.5,772.8 L1221.5,773.2 L1219.5,771.6 L1217.5,773.3 L1215.5,773.4 L1213.5,771.3 L1211.5,773.7 L1209.5,773.7 L1207.5,772.8 L1205.5,773.2 L1203.5,773.8 L1201.5,771.1 L1199.5,773.4 L1197.5,773.0 L1195.5,773.6 L1193.5,773.1 L1191.5,772.4 L1189.5,771.0 L1187.5,772.9 L1185.5,773.9 L1183.5,773.0 L1181.5,772.2 L1179.5,772.9 L1177.5,771.7 L1175.5,773.6 L1173.5,773.3 L1171.5,773.0 L1169.5,773.2 L1167.5,772.0 L1165.5,773.9 L1163.5,772.4 L1161.5,773.1 L1159.5,773.8 L1157.5,773.1 L1155.5,772.2 L1153.5,772.4 L1151.5,772.5 L1149.5,772.6 L1147.5,776.2 L1145.5,776.8 L1143.5,773.6 L1141.5,773.4 L1139.5,771.5 L1137.5,772.8 L1135.5,773.5 L1133.5,774.2 L1131.5,772.5 L1129.5,773.4 L1127.5,772.8 L1125.5,774.2 L1123.5,772.3 L1121.5,773.7 L1119.5,773.2 L1117.5,772.0 L1115.5,774.1 L1113.5,774.7 L1111.5,773.5 L1109.5,772.3 L1107.5,773.6 L1105.5,773.4 L1103.5,774.2 L1101.5,774.3 L1099.5,773.0 L1097.5,773.3 L1095.5,772.8 L1093.5,774.4 L1091.5,775.5 L1089.5,775.3 L1087.5,773.0 L1085.5,773.0 L1083.5,774.1 L1081.5,773.3 L1079.5,775.9 L1077.5,774.1 L1075.5,773.4 L1073.5,775.6 L1071.5,775.0 L1069.5,776.0 L1067.5,775.4 L1065.5,774.7 L1063.5,774.2 L1061.5,774.6 L1059.5,773.2 L1057.5,772.8 L1055.5,773.8 L1053.5,773.4 L1051.5,772.4 L1049.5,772.4 L1047.5,771.1 L1045.5,771.3 L1043.5,770.6 L1041.5,772.3 L1039.5,771.4 L1037.5,771.2 L1035.5,771.7 L1033.5,772.5 L1031.5,772.7 L1029.5,772.5 L1027.5,770.7 L1025.5,772.8 L1023.5,773.7 L1021.5,772.8 L1019.5,773.5 L1017.5,771.3 L1015.5,771.5 L1013.5,771.6 L1011.5,772.6 L1009.5,773.7 L1007.5,773.0 L1005.5,772.8 L1003.5,773.5 L1001.5,772.4 L999.5,774.2 L997.5,772.3 L995.5,774.9 L993.5,773.4 L991.5,773.2 L989.5,772.7 L987.5,774.3 L985.5,773.3 L983.5,774.2 L981.5,774.1 L979.5,774.3 L977.5,773.1 L975.5,775.1 L973.5,775.7 L971.5,774.2 L969.5,773.7 L967.5,775.6 L965.5,772.6 L963.5,772.6 L961.5,774.0 L959.5,771.9 L957.5,772.9 L955.5,773.9 L953.5,772.7 L951.5,772.3 L949.5,773.6 L947.5,771.5 L945.5,771.8 L943.5,772.8 L941.5,772.6 L939.5,771.5 L937.5,773.1 L935.5,772.9 L933.5,772.7 L931.5,773.6 L929.5,774.4 L927.5,774.2 L925.5,772.2 L923.5,773.5 L921.5,772.5 L919.5,773.0 L917.5,773.2 L915.5,772.3 L913.5,772.4 L911.5,772.3 L909.5,772.1 L907.5,772.5 L905.5,774.0 L903.5,772.2 L901.5,773.1 L899.5,772.0 L897.5,771.9 L895.5,773.5 L893.5,773.3 L891.5,772.8 L889.5,774.2 L887.5,774.5 L885.5,774.0 L883.5,773.9 L881.5,772.9 L879.5,773.5 L877.5,772.9 L875.5,775.2 L873.5,775.1 L871.5,775.4 L869.5,774.0 L867.5,774.5 L865.5,773.0 L863.5,773.3 L861.5,773.0 L859.5,773.2 L857.5,773.5 L855.5,774.9 L853.5,773.4 L851.5,774.7 L849.5,775.3 L847.5,774.3 L845.5,776.4 L843.5,773.9 L841.5,775.0 L839.5,774.7 L837.5,775.3 L835.5,773.9 L833.5,776.1 L831.5,774.8 L829.5,773.5 L827.5,773.1 L825.5,773.1 L823.5,770.7 L821.5,771.3 L819.5,772.7 L817.5,773.9 L815.5,774.4 L813.5,775.5 L811.5,775.8 L809.5,776.6 L807.5,776.4 L805.5,775.9 L803.5,776.6 L801.5,775.5 L799.5,776.9 L797.5,776.0 L795.5,774.7 L793.5,773.2 L791.5,773.1 L789.5,775.1 L787.5,771.8 L785.5,772.3 L783.5,772.1 L781.5,769.2 L779.5,767.8 L777.5,768.4 L775.5,767.2 L773.5,767.0 L771.5,769.6 L769.5,767.9 L767.5,771.2 L765.5,769.0 L763.5,771.3 L761.5,770.3 L759.5,771.4 L757.5,771.0 L755.5,773.7 L753.5,773.3 L751.5,775.3 L749.5,773.8 L747.5,774.5 L745.5,776.9 L743.5,775.5 L741.5,773.4 L739.5,774.9 L737.5,772.2 L735.5,771.5 L733.5,771.9 L731.5,770.7 L729.5,774.8 L727.5,775.2 L725.5,779.5 L723.5,777.9 L721.5,776.2 L719.5,772.9 L717.5,776.0 L715.5,778.4 L713.5,778.7 L711.5,779.2 L709.5,781.1 L707.5,783.4 L705.5,785.1 L703.5,783.6 L701.5,781.5 L699.5,780.6 L697.5,781.4 L695.5,779.4 L693.5,781.2 L691.5,779.3 L689.5,781.2 L687.5,779.0 L685.5,780.6 L683.5,779.5 L681.5,779.2 L679.5,780.4 L677.5,782.9 L675.5,785.2 L673.5,785.9 L671.5,787.3 L669.5,789.9 L667.5,789.7 L665.5,787.9 L663.5,789.2 L661.5,788.0 L659.5,789.1 L657.5,787.7 L655.5,787.6 L653.5,787.2 L651.5,787.8 L649.5,787.8 L647.5,785.8 L645.5,788.1 L643.5,788.0 L641.5,785.9 L639.5,787.0 L637.5,786.8 L635.5,791.8 L633.5,795.9 L631.5,799.1 L629.5,800.7 L627.5,799.9 L625.5,802.8 L623.5,805.1 L621.5,805.0 L619.5,804.6 L617.5,804.0 L615.5,801.9 L613.5,801.3 L611.5,801.1 L609.5,800.3 L607.5,802.4 L605.5,801.9 L603.5,802.7 L601.5,804.1 L599.5,803.8 L597.5,804.9 L595.5,806.6 L593.5,808.8 L591.5,811.1 L589.5,814.3 L587.5,816.5 L585.5,817.7 L583.5,818.7 L581.5,820.8 L579.5,822.0 L577.5,825.2 L575.5,827.3 L573.5,829.4 L571.5,830.6 L569.5,833.8 L567.5,836.1 L565.5,838.5 L563.5,838.4 L561.5,840.4 L559.5,845.2 L557.5,847.4Z"/>
<path fill="none" stroke="#ff0000" stroke-width="8.4" d="M517.5,721.5H1369.7"/>
<path fill="none" stroke="#ff0000" stroke-width="8" d="M1369.7,725.7V595.6"/>
<path fill="none" stroke="#ff0000" stroke-width="8.4" d="M1365.7,599.8H2221.5"/>
</g>
<g filter="url(#fa)">
<rect x="676" y="88.5" width="833" height="311.5" fill="#fff"/>
<g fill="none"><path d="M676,89.0H1509" stroke="#9c9c9c" stroke-width="6"/>
<path d="M675.6,88.5V400" stroke="#454545" stroke-width="2.6"/>
<path d="M1507.8,87V101" stroke="#4a4a4a" stroke-width="3.4"/>
<path d="M841.3,88V100 M1174.2,88V100" stroke="#666" stroke-width="3"/></g>
</g>
<g filter="url(#fd)">
<path fill="#0000ff" d="M672.0,190.0 L678.6,117.0 L684.5,130.7 L686.4,165.9 L691.3,179.6 L697.2,152.2 L698.2,126.8 L700.1,124.8 L705.0,130.7 L711.9,142.4 L713.8,103.3 L717.7,99.4 L720.7,103.3 L722.6,175.7 L726.5,177.7 L730.9,167.9 L731.4,107.2 L735.4,103.3 L738.3,92.5 L742.2,95.4 L744.2,113.1 L749.1,117.0 L751.0,195.3 L761.8,189.4 L762.8,107.2 L766.7,103.3 L771.6,100.3 L775.5,105.2 L776.5,122.8 L780.4,126.8 L782.3,187.4 L785.3,115.0 L788.2,110.1 L792.1,115.0 L793.1,136.5 L797.0,144.4 L798.0,160.0 L799.9,122.8 L801.9,119.9 L805.8,126.8 L809.7,150.3 L812.7,105.2 L815.6,101.3 L819.5,105.2 L821.5,179.6 L826.4,183.5 L828.3,160.0 L830.3,113.1 L836.2,106.2 L840.1,110.1 L843.0,122.8 L845.9,136.5 L847.9,173.7 L852.8,176.7 L855.7,187.4 L859.3,189.4 L859.6,91.5 L863.6,88.6 L866.5,91.5 L867.5,134.6 L873.3,132.6 L875.3,115.0 L879.2,111.1 L883.1,115.0 L884.1,187.4 L888.0,187.4 L889.0,97.4 L892.9,93.5 L896.8,97.4 L897.8,118.9 L906.6,120.9 L910.5,126.8 L912.5,160.0 L916.4,154.2 L917.4,128.7 L920.3,125.8 L923.3,130.7 L925.2,148.3 L928.2,126.8 L932.1,117.0 L940.9,114.0 L944.8,118.0 L945.8,136.5 L951.6,138.5 L953.6,183.5 L956.5,183.5 L957.5,111.1 L963.4,109.1 L967.3,101.3 L972.2,105.2 L973.2,187.4 L979.0,187.4 L980.0,181.6 L984.9,181.6 L986.9,144.4 L989.8,111.1 L996.7,109.1 L997.6,87.6 L1001.6,83.7 L1005.5,87.6 L1006.4,162.0 L1014.3,167.9 L1016.2,187.4 L1018.2,187.4 L1019.2,89.6 L1023.1,86.6 L1027.0,89.6 L1028.0,128.7 L1035.8,127.7 L1036.8,120.9 L1039.7,118.9 L1043.6,122.8 L1045.6,107.2 L1049.5,104.3 L1053.4,107.2 L1054.4,132.6 L1061.3,132.6 L1063.2,127.7 L1067.1,125.8 L1071.0,128.7 L1072.0,134.6 L1076.9,135.6 L1079.8,156.1 L1082.8,89.6 L1086.7,85.7 L1090.6,89.6 L1091.6,142.4 L1090.0,142.4 L1096.9,142.4 L1097.8,115.0 L1101.7,113.1 L1104.7,117.0 L1105.7,150.3 L1109.6,150.3 L1110.6,111.1 L1113.5,108.2 L1117.4,111.1 L1118.4,167.9 L1120.3,101.3 L1123.3,98.4 L1127.2,101.3 L1128.2,136.5 L1130.1,115.0 L1133.1,113.1 L1136.0,117.0 L1137.0,164.0 L1138.9,140.5 L1141.9,138.5 L1144.8,142.4 L1146.8,154.2 L1148.7,171.8 L1150.7,107.2 L1153.6,104.3 L1156.5,107.2 L1157.5,136.5 L1162.4,134.6 L1164.4,95.4 L1168.3,91.5 L1171.2,95.4 L1172.2,187.4 L1176.1,187.4 L1177.1,160.0 L1179.1,115.0 L1182.0,111.1 L1185.9,115.0 L1186.9,162.0 L1188.8,124.8 L1191.8,122.8 L1197.7,127.7 L1201.6,118.9 L1205.5,117.0 L1206.5,112.1 L1209.4,109.1 L1213.3,112.1 L1214.3,165.9 L1216.2,118.9 L1222.1,116.0 L1223.1,113.1 L1226.0,111.1 L1229.0,114.0 L1229.9,119.9 L1232.9,122.8 L1234.8,156.1 L1235.8,146.3 L1238.8,144.4 L1241.7,147.3 L1242.7,162.0 L1244.6,118.9 L1247.6,116.0 L1250.5,118.9 L1252.5,127.7 L1256.4,126.8 L1257.4,113.1 L1260.3,110.1 L1263.2,113.1 L1264.2,130.7 L1267.1,132.6 L1269.1,158.1 L1274.0,146.3 L1277.9,143.4 L1278.9,118.0 L1282.8,115.0 L1285.7,118.0 L1287.7,121.9 L1293.6,124.8 L1297.5,127.7 L1298.5,141.4 L1303.3,144.4 L1307.3,144.4 L1308.2,112.1 L1311.2,109.1 L1315.1,112.1 L1316.1,139.5 L1320.0,139.5 L1321.0,132.6 L1323.9,130.7 L1326.8,133.6 L1328.8,145.4 L1334.7,146.3 L1337.6,144.4 L1338.6,130.7 L1342.5,127.7 L1346.4,122.8 L1350.3,126.8 L1354.2,126.8 L1358.2,132.6 L1359.1,137.5 L1363.0,138.5 L1365.0,145.4 L1367.0,134.6 L1370.9,131.7 L1371.9,107.2 L1375.8,104.3 L1379.7,107.2 L1380.7,133.6 L1385.6,136.5 L1392.4,138.5 L1394.4,148.3 L1401.2,149.3 L1402.2,138.5 L1406.1,134.6 L1407.1,125.8 L1411.0,121.9 L1414.9,125.8 L1415.9,136.5 L1420.8,137.5 L1425.7,144.4 L1430.6,149.3 L1432.5,138.5 L1436.4,135.6 L1437.4,108.2 L1440.4,105.2 L1444.3,108.2 L1445.3,135.6 L1449.2,137.5 L1452.1,143.4 L1456.0,144.4 L1459.9,152.2 L1465.8,153.2 L1467.8,138.5 L1471.7,135.6 L1472.7,125.8 L1476.6,122.8 L1480.5,125.8 L1481.5,137.5 L1485.4,137.5 L1491.3,146.3 L1496.1,148.3 L1497.1,136.5 L1501.0,134.6 L1502.0,108.2 L1505.9,104.3 L1509.8,108.2 L1511.2,128.7 L1511.5,190.0 L1511.5,386.0 L1511.5,386.4 L672.0,386.4 L672.0,386.0Z"/>
<path fill="#0000ff" d="M693.3,352.2 L696.2,350.6 L706.0,353.2 L707.0,382.5 L692.3,382.5Z"/>
<path fill="#0000ff" d="M727.5,387.4 L734.4,361.0 L742.2,387.4Z"/>
<path fill="#0000ff" d="M763.7,387.4 L772.0,374.7 L779.8,392.3 L775.5,392.3Z"/>
<path fill="#0000ff" d="M803.9,385.5 L810.7,377.7 L814.6,395.3 L808.8,395.3Z"/>
<path fill="#0000ff" d="M835.2,387.4 L839.1,382.5 L843.0,387.4 L841.1,396.2 L837.1,396.2Z"/>
<ellipse cx="922.0" cy="388.5" rx="3.1" ry="4.5" fill="#0000ff"/>
<ellipse cx="940.9" cy="389.6" rx="3.0" ry="4.3" fill="#0000ff"/>
<ellipse cx="949.1" cy="388.8" rx="3.2" ry="4.6" fill="#0000ff"/>
<ellipse cx="961.1" cy="388.6" rx="2.1" ry="3.0" fill="#0000ff"/>
<ellipse cx="984.6" cy="389.8" rx="2.1" ry="3.1" fill="#0000ff"/>
<ellipse cx="995.7" cy="389.1" rx="2.2" ry="3.2" fill="#0000ff"/>
<ellipse cx="1029.4" cy="389.0" rx="3.1" ry="4.4" fill="#0000ff"/>
<ellipse cx="1040.5" cy="390.5" rx="2.2" ry="3.2" fill="#0000ff"/>
<ellipse cx="1063.8" cy="389.5" rx="2.3" ry="3.3" fill="#0000ff"/>
<ellipse cx="1107.1" cy="388.4" rx="3.1" ry="4.5" fill="#0000ff"/>
<ellipse cx="1140.7" cy="390.4" rx="3.1" ry="4.5" fill="#0000ff"/>
<ellipse cx="1158.3" cy="390.4" rx="2.3" ry="3.3" fill="#0000ff"/>
<ellipse cx="1190.9" cy="389.8" rx="2.1" ry="3.0" fill="#0000ff"/>
<ellipse cx="1227.4" cy="388.7" rx="2.5" ry="3.7" fill="#0000ff"/>
<ellipse cx="1233.9" cy="388.9" rx="2.7" ry="3.9" fill="#0000ff"/>
<ellipse cx="1276.0" cy="388.1" rx="2.0" ry="2.9" fill="#0000ff"/>
<ellipse cx="1303.0" cy="389.6" rx="2.6" ry="3.7" fill="#0000ff"/>
<ellipse cx="1328.8" cy="389.4" rx="2.9" ry="4.2" fill="#0000ff"/>
<ellipse cx="1434.3" cy="389.6" rx="3.2" ry="4.7" fill="#0000ff"/>
<ellipse cx="1479.8" cy="389.9" rx="2.0" ry="2.9" fill="#0000ff"/>
<path fill="#00ff00" d="M671.7,122.8 L673.2,123.2 L674.7,123.4 L676.2,123.4 L677.7,123.3 L679.2,124.1 L680.7,130.6 L682.2,164.6 L683.7,216.0 L685.2,210.7 L686.7,204.7 L688.2,196.7 L689.7,188.5 L691.2,179.6 L692.7,171.9 L694.2,163.0 L695.7,154.6 L697.2,151.2 L698.7,151.4 L700.2,150.7 L701.7,153.9 L703.2,156.6 L704.7,162.8 L706.2,174.1 L707.7,181.5 L709.2,184.7 L710.7,189.1 L712.2,193.3 L713.7,201.3 L715.2,210.2 L716.7,211.9 L718.2,211.7 L719.7,206.8 L721.2,200.9 L722.7,194.7 L724.2,188.8 L725.7,182.5 L727.2,176.4 L728.7,174.1 L730.2,171.1 L731.7,169.2 L733.2,167.9 L734.7,169.3 L736.2,169.8 L737.7,170.3 L739.2,170.9 L740.7,171.3 L742.2,172.2 L743.7,177.5 L745.2,183.9 L746.7,189.8 L748.2,193.9 L749.7,199.5 L751.2,203.6 L752.7,204.2 L754.2,204.4 L755.7,202.0 L757.2,199.5 L758.7,197.6 L760.2,194.3 L761.7,191.0 L763.2,188.0 L764.7,185.6 L766.2,182.9 L767.7,180.7 L769.2,179.5 L770.7,178.4 L772.2,178.4 L773.7,179.1 L775.2,180.7 L776.7,182.2 L778.2,185.3 L779.7,187.8 L781.2,190.8 L782.7,192.4 L784.2,194.3 L785.7,195.0 L787.2,196.5 L788.7,198.3 L790.2,201.6 L791.7,202.7 L793.2,201.2 L794.7,198.9 L796.2,196.3 L797.7,193.6 L799.2,189.9 L800.7,186.3 L802.2,185.7 L803.7,184.8 L805.2,185.1 L806.7,184.8 L808.2,184.1 L809.7,184.1 L811.2,183.9 L812.7,184.9 L814.2,185.9 L815.7,187.7 L817.2,188.1 L818.7,189.1 L820.2,191.0 L821.7,192.1 L823.2,192.9 L824.7,194.4 L826.2,194.7 L827.7,199.1 L829.2,197.7 L830.7,192.6 L832.2,187.1 L833.7,186.6 L835.2,186.5 L836.7,186.7 L838.2,186.4 L839.7,185.8 L841.2,185.5 L842.7,185.2 L844.2,185.9 L845.7,185.5 L847.2,185.7 L848.7,185.4 L850.2,186.4 L851.7,187.7 L853.2,188.4 L854.7,189.3 L856.2,189.6 L857.7,189.7 L859.2,190.1 L860.7,190.6 L862.2,190.0 L863.7,189.8 L865.2,189.1 L866.7,189.1 L868.2,187.9 L869.7,188.1 L871.2,187.9 L872.7,187.0 L874.2,187.5 L875.7,187.6 L877.2,187.8 L878.7,187.5 L880.2,187.5 L881.7,188.0 L883.2,188.9 L884.7,189.2 L886.2,188.8 L887.7,188.9 L889.2,188.8 L890.7,188.6 L892.2,188.8 L893.7,188.4 L895.2,188.9 L896.7,188.6 L898.2,187.9 L899.7,188.2 L901.2,187.8 L902.7,187.8 L904.2,187.4 L905.7,187.2 L907.2,187.1 L908.7,187.3 L910.2,187.6 L911.7,187.5 L913.2,187.0 L914.7,187.7 L916.2,187.8 L917.7,187.7 L919.2,187.7 L920.7,186.9 L922.2,187.4 L923.7,187.0 L925.2,187.7 L926.7,187.1 L928.2,187.6 L929.7,187.2 L931.2,187.6 L932.7,187.3 L934.2,187.0 L935.7,187.3 L937.2,187.2 L938.7,187.8 L940.2,187.2 L941.7,187.4 L943.2,187.5 L944.7,187.9 L946.2,187.0 L947.7,187.5 L949.2,187.4 L950.7,187.7 L952.2,187.9 L953.7,187.2 L955.2,187.6 L956.7,187.5 L958.2,187.5 L959.7,187.0 L961.2,187.8 L962.7,187.9 L964.2,187.3 L965.7,187.3 L967.2,187.9 L968.7,187.0 L970.2,187.0 L971.7,187.0 L973.2,187.7 L974.7,187.7 L976.2,187.4 L977.7,187.6 L979.2,187.0 L980.7,187.6 L982.2,187.4 L983.7,187.5 L985.2,187.3 L986.7,187.3 L988.2,187.2 L989.7,187.0 L991.2,187.4 L992.7,187.2 L994.2,187.6 L995.7,187.8 L997.2,187.7 L998.7,187.4 L1000.2,187.2 L1001.7,187.3 L1003.2,187.4 L1004.7,187.6 L1006.2,187.9 L1007.7,187.0 L1009.2,187.4 L1010.7,187.4 L1012.2,187.7 L1013.7,187.8 L1015.2,187.7 L1016.7,187.6 L1018.2,187.7 L1019.7,187.6 L1021.2,187.8 L1022.7,187.6 L1024.2,187.6 L1025.7,187.2 L1027.2,187.8 L1028.7,187.3 L1030.2,187.5 L1031.7,187.8 L1033.2,187.9 L1034.7,187.9 L1036.2,186.9 L1037.7,187.2 L1039.2,187.2 L1040.7,187.3 L1042.2,187.1 L1043.7,187.5 L1045.2,187.0 L1046.7,187.2 L1048.2,187.9 L1049.7,187.7 L1051.2,187.4 L1052.7,187.0 L1054.2,187.9 L1055.7,187.6 L1057.2,187.1 L1058.7,187.3 L1060.2,187.6 L1061.7,187.6 L1063.2,187.2 L1064.7,187.9 L1066.2,187.3 L1067.7,187.2 L1069.2,187.8 L1070.7,187.1 L1072.2,187.6 L1073.7,187.1 L1075.2,187.5 L1076.7,187.2 L1078.2,187.3 L1079.7,187.9 L1081.2,187.4 L1082.7,187.4 L1084.2,187.5 L1085.7,187.2 L1087.2,187.1 L1088.7,187.3 L1090.2,187.2 L1091.7,187.1 L1093.2,187.9 L1094.7,187.0 L1096.2,187.7 L1097.7,187.9 L1099.2,187.6 L1100.7,186.9 L1102.2,187.4 L1103.7,187.0 L1105.2,187.5 L1106.7,187.6 L1108.2,187.2 L1109.7,186.9 L1111.2,187.5 L1112.7,187.0 L1114.2,187.2 L1115.7,187.4 L1117.2,187.8 L1118.7,187.3 L1120.2,187.1 L1121.7,187.7 L1123.2,187.7 L1124.7,187.5 L1126.2,187.0 L1127.7,187.1 L1129.2,187.3 L1130.7,187.5 L1132.2,187.2 L1133.7,187.7 L1135.2,187.8 L1136.7,187.8 L1138.2,187.8 L1139.7,186.9 L1141.2,187.5 L1142.7,187.0 L1144.2,187.8 L1145.7,187.7 L1147.2,187.7 L1148.7,187.1 L1150.2,187.0 L1151.7,187.7 L1153.2,187.5 L1154.7,187.5 L1156.2,187.4 L1157.7,187.7 L1159.2,187.3 L1160.7,187.2 L1162.2,187.3 L1163.7,187.2 L1165.2,187.5 L1166.7,187.8 L1168.2,187.0 L1169.7,187.0 L1171.2,187.4 L1172.7,187.6 L1174.2,187.1 L1175.7,187.2 L1177.2,187.0 L1178.7,187.0 L1180.2,187.4 L1181.7,187.6 L1183.2,187.6 L1184.7,187.1 L1186.2,187.0 L1187.7,187.9 L1189.2,187.5 L1190.7,187.3 L1192.2,187.6 L1193.7,187.6 L1195.2,187.4 L1196.7,187.0 L1198.2,187.7 L1199.7,187.1 L1201.2,187.0 L1202.7,187.3 L1204.2,187.5 L1205.7,187.5 L1207.2,187.1 L1208.7,187.6 L1210.2,187.4 L1211.7,187.1 L1213.2,187.8 L1214.7,187.7 L1216.2,187.8 L1217.7,187.6 L1219.2,187.1 L1220.7,187.7 L1222.2,187.8 L1223.7,187.5 L1225.2,187.8 L1226.7,187.9 L1228.2,187.3 L1229.7,187.9 L1231.2,187.9 L1232.7,187.7 L1234.2,186.9 L1235.7,187.3 L1237.2,187.5 L1238.7,187.5 L1240.2,187.7 L1241.7,187.6 L1243.2,187.1 L1244.7,187.8 L1246.2,187.5 L1247.7,187.8 L1249.2,187.1 L1250.7,187.9 L1252.2,187.5 L1253.7,187.7 L1255.2,187.7 L1256.7,187.8 L1258.2,187.3 L1259.7,187.0 L1261.2,187.3 L1262.7,187.1 L1264.2,187.5 L1265.7,187.7 L1267.2,187.3 L1268.7,187.0 L1270.2,186.9 L1271.7,187.3 L1273.2,187.5 L1274.7,186.9 L1276.2,187.6 L1277.7,187.1 L1279.2,187.0 L1280.7,187.8 L1282.2,187.4 L1283.7,187.8 L1285.2,187.4 L1286.7,187.0 L1288.2,187.2 L1289.7,187.3 L1291.2,187.6 L1292.7,187.7 L1294.2,187.7 L1295.7,187.6 L1297.2,187.2 L1298.7,187.3 L1300.2,187.3 L1301.7,187.4 L1303.2,187.2 L1304.7,187.5 L1306.2,187.4 L1307.7,186.9 L1309.2,187.7 L1310.7,187.5 L1312.2,187.7 L1313.7,187.6 L1315.2,187.6 L1316.7,187.9 L1318.2,187.3 L1319.7,187.3 L1321.2,186.9 L1322.7,187.6 L1324.2,187.5 L1325.7,187.5 L1327.2,187.9 L1328.7,187.1 L1330.2,187.1 L1331.7,187.6 L1333.2,187.7 L1334.7,187.4 L1336.2,187.0 L1337.7,187.3 L1339.2,187.7 L1340.7,187.4 L1342.2,187.4 L1343.7,187.3 L1345.2,187.5 L1346.7,187.5 L1348.2,187.6 L1349.7,187.8 L1351.2,187.7 L1352.7,187.3 L1354.2,187.2 L1355.7,187.7 L1357.2,187.7 L1358.7,187.8 L1360.2,187.1 L1361.7,187.8 L1363.2,187.8 L1364.7,187.0 L1366.2,187.2 L1367.7,187.5 L1369.2,187.1 L1370.7,187.7 L1372.2,187.2 L1373.7,187.6 L1375.2,187.2 L1376.7,187.1 L1378.2,187.1 L1379.7,187.4 L1381.2,187.6 L1382.7,187.1 L1384.2,187.6 L1385.7,187.2 L1387.2,187.6 L1388.7,187.3 L1390.2,187.1 L1391.7,187.0 L1393.2,187.0 L1394.7,187.6 L1396.2,187.3 L1397.7,187.0 L1399.2,187.8 L1400.7,187.6 L1402.2,186.9 L1403.7,187.6 L1405.2,187.5 L1406.7,187.4 L1408.2,187.4 L1409.7,187.9 L1411.2,187.3 L1412.7,187.5 L1414.2,187.5 L1415.7,187.3 L1417.2,187.3 L1418.7,187.7 L1420.2,187.5 L1421.7,187.4 L1423.2,187.4 L1424.7,187.1 L1426.2,187.7 L1427.7,186.9 L1429.2,187.5 L1430.7,187.4 L1432.2,187.1 L1433.7,187.5 L1435.2,187.5 L1436.7,187.0 L1438.2,187.4 L1439.7,187.1 L1441.2,187.7 L1442.7,187.2 L1444.2,187.2 L1445.7,187.1 L1447.2,187.0 L1448.7,187.1 L1450.2,187.1 L1451.7,187.5 L1453.2,187.8 L1454.7,187.1 L1456.2,187.0 L1457.7,187.4 L1459.2,187.0 L1460.7,187.3 L1462.2,187.7 L1463.7,187.1 L1465.2,187.6 L1466.7,187.4 L1468.2,187.0 L1469.7,187.1 L1471.2,187.5 L1472.7,187.0 L1474.2,187.1 L1475.7,187.5 L1477.2,187.7 L1478.7,187.4 L1480.2,187.6 L1481.7,186.9 L1483.2,187.2 L1484.7,187.2 L1486.2,187.8 L1487.7,187.3 L1489.2,187.7 L1490.7,186.9 L1492.2,187.4 L1493.7,187.8 L1495.2,187.7 L1496.7,187.5 L1498.2,187.1 L1499.7,187.8 L1501.2,187.0 L1502.7,187.9 L1504.2,187.7 L1505.7,187.6 L1507.2,187.4 L1508.7,187.1 L1510.2,187.2 L1511.7,187.6 L1511.8,187.6 L1511.8,385.8 L1511.7,385.7 L1510.2,386.1 L1508.7,385.7 L1507.2,385.6 L1505.7,385.9 L1504.2,385.4 L1502.7,386.0 L1501.2,386.0 L1499.7,386.0 L1498.2,385.9 L1496.7,385.4 L1495.2,385.7 L1493.7,385.9 L1492.2,386.0 L1490.7,386.2 L1489.2,386.0 L1487.7,386.1 L1486.2,385.7 L1484.7,386.0 L1483.2,385.7 L1481.7,385.7 L1480.2,385.9 L1478.7,385.9 L1477.2,386.2 L1475.7,385.8 L1474.2,386.0 L1472.7,385.8 L1471.2,386.0 L1469.7,386.2 L1468.2,386.0 L1466.7,385.8 L1465.2,385.8 L1463.7,385.7 L1462.2,385.5 L1460.7,386.0 L1459.2,385.8 L1457.7,385.8 L1456.2,386.1 L1454.7,385.7 L1453.2,385.5 L1451.7,385.8 L1450.2,385.6 L1448.7,386.0 L1447.2,386.2 L1445.7,385.8 L1444.2,386.0 L1442.7,386.0 L1441.2,386.0 L1439.7,385.7 L1438.2,386.0 L1436.7,386.2 L1435.2,386.0 L1433.7,385.5 L1432.2,385.6 L1430.7,386.2 L1429.2,386.0 L1427.7,385.6 L1426.2,385.5 L1424.7,385.7 L1423.2,385.6 L1421.7,385.7 L1420.2,386.1 L1418.7,386.1 L1417.2,385.9 L1415.7,385.6 L1414.2,385.5 L1412.7,386.0 L1411.2,385.6 L1409.7,385.7 L1408.2,386.1 L1406.7,385.8 L1405.2,385.5 L1403.7,385.5 L1402.2,386.1 L1400.7,385.7 L1399.2,385.5 L1397.7,385.7 L1396.2,386.1 L1394.7,385.7 L1393.2,385.4 L1391.7,385.9 L1390.2,385.8 L1388.7,386.0 L1387.2,386.0 L1385.7,385.9 L1384.2,385.5 L1382.7,385.6 L1381.2,385.8 L1379.7,385.9 L1378.2,385.6 L1376.7,385.8 L1375.2,385.5 L1373.7,385.5 L1372.2,385.5 L1370.7,385.7 L1369.2,385.6 L1367.7,385.8 L1366.2,385.5 L1364.7,385.8 L1363.2,385.8 L1361.7,385.8 L1360.2,386.0 L1358.7,386.0 L1357.2,386.0 L1355.7,385.4 L1354.2,386.0 L1352.7,385.8 L1351.2,385.5 L1349.7,385.9 L1348.2,385.8 L1346.7,385.5 L1345.2,385.6 L1343.7,386.2 L1342.2,386.2 L1340.7,385.6 L1339.2,385.5 L1337.7,385.6 L1336.2,385.6 L1334.7,386.1 L1333.2,385.7 L1331.7,385.7 L1330.2,385.5 L1328.7,385.6 L1327.2,386.0 L1325.7,385.7 L1324.2,386.0 L1322.7,385.6 L1321.2,385.7 L1319.7,385.5 L1318.2,385.6 L1316.7,385.7 L1315.2,386.0 L1313.7,385.8 L1312.2,385.8 L1310.7,386.1 L1309.2,385.6 L1307.7,385.9 L1306.2,385.5 L1304.7,385.8 L1303.2,385.7 L1301.7,385.6 L1300.2,385.5 L1298.7,385.7 L1297.2,385.5 L1295.7,386.1 L1294.2,386.1 L1292.7,385.7 L1291.2,385.5 L1289.7,385.4 L1288.2,385.8 L1286.7,386.1 L1285.2,385.8 L1283.7,386.1 L1282.2,386.1 L1280.7,385.4 L1279.2,386.0 L1277.7,386.1 L1276.2,385.7 L1274.7,386.1 L1273.2,385.5 L1271.7,385.7 L1270.2,385.6 L1268.7,385.6 L1267.2,385.8 L1265.7,385.5 L1264.2,385.7 L1262.7,386.0 L1261.2,386.0 L1259.7,385.7 L1258.2,385.9 L1256.7,386.1 L1255.2,386.0 L1253.7,385.6 L1252.2,385.5 L1250.7,385.4 L1249.2,385.6 L1247.7,385.8 L1246.2,386.1 L1244.7,385.7 L1243.2,386.1 L1241.7,385.5 L1240.2,385.9 L1238.7,385.7 L1237.2,385.6 L1235.7,386.1 L1234.2,385.9 L1232.7,385.7 L1231.2,385.7 L1229.7,386.1 L1228.2,385.9 L1226.7,385.5 L1225.2,385.7 L1223.7,385.8 L1222.2,386.2 L1220.7,386.2 L1219.2,385.6 L1217.7,385.9 L1216.2,386.0 L1214.7,386.2 L1213.2,385.8 L1211.7,386.2 L1210.2,386.2 L1208.7,385.6 L1207.2,385.9 L1205.7,385.7 L1204.2,385.5 L1202.7,385.8 L1201.2,386.1 L1199.7,385.6 L1198.2,386.0 L1196.7,385.8 L1195.2,385.7 L1193.7,385.9 L1192.2,386.2 L1190.7,385.9 L1189.2,386.1 L1187.7,385.5 L1186.2,385.5 L1184.7,385.5 L1183.2,386.1 L1181.7,385.6 L1180.2,385.6 L1178.7,385.9 L1177.2,386.0 L1175.7,385.8 L1174.2,385.8 L1172.7,385.6 L1171.2,385.8 L1169.7,385.5 L1168.2,385.6 L1166.7,385.8 L1165.2,385.7 L1163.7,385.5 L1162.2,385.6 L1160.7,385.8 L1159.2,386.2 L1157.7,385.6 L1156.2,386.1 L1154.7,385.8 L1153.2,385.4 L1151.7,385.6 L1150.2,386.0 L1148.7,385.7 L1147.2,385.5 L1145.7,385.6 L1144.2,386.0 L1142.7,386.0 L1141.2,385.5 L1139.7,386.1 L1138.2,385.7 L1136.7,385.9 L1135.2,385.5 L1133.7,386.0 L1132.2,385.5 L1130.7,385.8 L1129.2,385.6 L1127.7,385.9 L1126.2,386.2 L1124.7,385.7 L1123.2,386.1 L1121.7,385.7 L1120.2,385.9 L1118.7,385.6 L1117.2,385.9 L1115.7,385.9 L1114.2,386.0 L1112.7,385.9 L1111.2,385.6 L1109.7,386.1 L1108.2,386.1 L1106.7,385.7 L1105.2,386.1 L1103.7,385.9 L1102.2,386.2 L1100.7,385.8 L1099.2,385.6 L1097.7,385.9 L1096.2,385.8 L1094.7,385.7 L1093.2,386.2 L1091.7,386.0 L1090.2,385.6 L1088.7,385.7 L1087.2,385.9 L1085.7,386.2 L1084.2,385.5 L1082.7,386.0 L1081.2,386.0 L1079.7,385.8 L1078.2,385.6 L1076.7,386.1 L1075.2,385.8 L1073.7,385.6 L1072.2,385.5 L1070.7,385.5 L1069.2,385.7 L1067.7,385.7 L1066.2,386.0 L1064.7,386.1 L1063.2,386.0 L1061.7,385.5 L1060.2,386.0 L1058.7,385.8 L1057.2,385.9 L1055.7,386.2 L1054.2,385.8 L1052.7,385.7 L1051.2,385.5 L1049.7,385.9 L1048.2,386.1 L1046.7,385.8 L1045.2,385.5 L1043.7,386.1 L1042.2,386.2 L1040.7,385.5 L1039.2,385.6 L1037.7,385.7 L1036.2,385.6 L1034.7,385.6 L1033.2,385.6 L1031.7,385.9 L1030.2,386.2 L1028.7,385.5 L1027.2,385.8 L1025.7,386.2 L1024.2,386.2 L1022.7,385.9 L1021.2,385.7 L1019.7,386.1 L1018.2,385.7 L1016.7,385.8 L1015.2,385.8 L1013.7,385.6 L1012.2,385.7 L1010.7,385.8 L1009.2,385.5 L1007.7,385.7 L1006.2,385.5 L1004.7,385.7 L1003.2,386.2 L1001.7,385.5 L1000.2,385.6 L998.7,385.7 L997.2,385.7 L995.7,386.0 L994.2,386.1 L992.7,386.2 L991.2,386.0 L989.7,386.2 L988.2,386.2 L986.7,385.7 L985.2,386.1 L983.7,386.0 L982.2,385.8 L980.7,386.2 L979.2,386.2 L977.7,385.9 L976.2,385.6 L974.7,385.5 L973.2,385.5 L971.7,386.1 L970.2,386.1 L968.7,386.0 L967.2,386.2 L965.7,385.5 L964.2,386.1 L962.7,385.9 L961.2,385.9 L959.7,386.2 L958.2,385.9 L956.7,385.6 L955.2,386.2 L953.7,385.9 L952.2,385.7 L950.7,385.8 L949.2,385.5 L947.7,385.6 L946.2,385.6 L944.7,386.0 L943.2,385.8 L941.7,386.1 L940.2,386.2 L938.7,385.8 L937.2,385.6 L935.7,386.2 L934.2,386.1 L932.7,386.0 L931.2,385.9 L929.7,386.1 L928.2,385.6 L926.7,385.7 L925.2,385.6 L923.7,385.9 L922.2,386.1 L920.7,385.8 L919.2,385.9 L917.7,386.2 L916.2,386.1 L914.7,385.6 L913.2,386.0 L911.7,385.8 L910.2,385.5 L908.7,386.1 L907.2,386.2 L905.7,385.7 L904.2,385.6 L902.7,385.9 L901.2,385.7 L899.7,386.1 L898.2,386.3 L896.7,386.0 L895.2,385.5 L893.7,386.1 L892.2,385.5 L890.7,385.9 L889.2,385.5 L887.7,386.0 L886.2,385.9 L884.7,385.5 L883.2,386.0 L881.7,386.2 L880.2,385.6 L878.7,386.0 L877.2,385.5 L875.7,385.7 L874.2,385.7 L872.7,385.7 L871.2,385.8 L869.7,386.0 L868.2,386.1 L866.7,385.8 L865.2,385.9 L863.7,385.6 L862.2,385.5 L860.7,386.2 L859.2,385.8 L857.7,385.5 L856.2,386.1 L854.7,386.2 L853.2,386.1 L851.7,385.9 L850.2,385.8 L848.7,386.1 L847.2,385.8 L845.7,386.0 L844.2,386.0 L842.7,386.6 L841.2,386.1 L839.7,386.1 L838.2,386.1 L836.7,386.3 L835.2,387.0 L833.7,386.6 L832.2,387.1 L830.7,387.6 L829.2,388.1 L827.7,388.0 L826.2,388.5 L824.7,389.0 L823.2,389.2 L821.7,388.8 L820.2,389.2 L818.7,388.6 L817.2,388.3 L815.7,387.9 L814.2,386.6 L812.7,383.8 L811.2,380.9 L809.7,380.2 L808.2,381.5 L806.7,382.7 L805.2,383.3 L803.7,384.6 L802.2,386.1 L800.7,387.9 L799.2,389.1 L797.7,391.0 L796.2,392.0 L794.7,392.4 L793.2,392.9 L791.7,394.1 L790.2,394.5 L788.7,395.2 L787.2,394.9 L785.7,394.2 L784.2,393.3 L782.7,392.3 L781.2,390.4 L779.7,388.4 L778.2,386.4 L776.7,384.4 L775.2,381.6 L773.7,379.6 L772.2,376.5 L770.7,376.4 L769.2,378.0 L767.7,379.9 L766.2,381.4 L764.7,382.4 L763.2,384.6 L761.7,388.1 L760.2,392.1 L758.7,394.8 L757.2,397.5 L755.7,398.1 L754.2,398.4 L752.7,399.0 L751.2,398.8 L749.7,397.5 L748.2,396.7 L746.7,395.6 L745.2,392.5 L743.7,388.5 L742.2,383.8 L740.7,379.4 L739.2,375.4 L737.7,371.3 L736.2,367.5 L734.7,362.6 L733.2,365.6 L731.7,369.9 L730.2,374.7 L728.7,379.8 L727.2,385.2 L725.7,392.2 L724.2,400.1 L722.7,403.7 L721.2,403.9 L719.7,403.9 L718.2,404.8 L716.7,404.6 L715.2,405.0 L713.7,404.6 L712.2,404.1 L710.7,404.0 L709.2,403.4 L707.7,391.6 L706.2,361.6 L704.7,353.6 L703.2,352.1 L701.7,351.2 L700.2,350.4 L698.7,351.0 L697.2,350.8 L695.7,351.9 L694.2,352.7 L692.7,373.5 L691.2,403.5 L689.7,403.3 L688.2,403.3 L686.7,403.9 L685.2,403.5 L683.7,404.2 L682.2,403.9 L680.7,404.3 L679.2,404.0 L677.7,404.2 L676.2,405.0 L674.7,404.4 L673.2,404.6 L671.7,405.4Z"/>
<path fill="none" stroke="#ff0000" stroke-width="8.8" d="M671.7,230H1508"/>
<path fill="none" stroke="#ff0000" stroke-width="7.8" d="M675.6,226V269.6"/>
</g>
<g filter="url(#fa)" fill="none" stroke="#484848" stroke-width="3"><path d="M691,400.2H1509.6"/><path d="M841.3,400V389.5 M1174.2,400V389.5 M1508,401.5V387"/></g>
<g filter="url(#fa)">
<rect x="1533.1" y="56.6" width="689.2" height="333" fill="#fff"/>
<path d="M1532,389.7H2222.3" stroke="#8e8e8e" stroke-width="4" fill="none"/>
<path d="M1533.1,391V56.6H2222.3V391" fill="none" stroke="#505050" stroke-width="2.3"/>
</g>
<g filter="url(#fd)" fill="none" stroke-width="11"><path d="M1543.2,115.8H1635.6" stroke="#0000ff"/><path d="M1543.2,223.6H1635.6" stroke="#00ff00"/><path d="M1543.2,331.5H1635.6" stroke="#ff0000"/></g>
<g filter="url(#fd)" fill="#000">
<rect x="1381.8" y="537.8" width="27.7" height="8.4"/>
<rect x="1437.2" y="537.8" width="34.6" height="8.4"/>
<rect x="1492.6" y="537.8" width="27.7" height="8.4"/>
<rect x="1548.0" y="537.8" width="28.2" height="8.4"/>
<rect x="1398.5" y="659.4" width="27.6" height="8.4"/>
<rect x="1453.8" y="659.4" width="27.7" height="8.4"/>
<rect x="1510.6" y="659.4" width="26.3" height="8.4"/>
<rect x="1566.0" y="659.4" width="14.6" height="8.4"/>
<rect x="1365.5" y="560.0" width="7.2" height="34.8"/>
<rect x="1365.5" y="630.6" width="7.2" height="36.4"/>
<rect x="1573.4" y="575.2" width="7.2" height="33.2"/>
<rect x="1573.4" y="644.4" width="7.2" height="23.4"/>
<rect x="1464.9" y="425" width="7" height="121"/>
<path d="M1468.4,403 L1481,442.5 L1468.4,431 L1456,442.5 Z"/>
</g>
<g filter="url(#ft)" font-family="'Liberation Serif', serif" font-weight="bold">
<text transform="translate(492.3,88.0) scale(0.7550,1.0000)" font-size="96.0" text-anchor="end" fill="#262626">1500</text>
<text transform="translate(492.3,352.0) scale(0.7550,1.0000)" font-size="96.0" text-anchor="end" fill="#262626">1000</text>
<text transform="translate(492.3,616.2) scale(0.7550,1.0000)" font-size="96.0" text-anchor="end" fill="#262626">500</text>
<text transform="translate(492.3,878.0) scale(0.7550,1.0000)" font-size="96.0" text-anchor="end" fill="#262626">0</text>
<text transform="translate(517.2,956.1) scale(0.7550,1.0000)" font-size="96.0" text-anchor="middle" fill="#262626">0</text>
<text transform="translate(858.6,956.1) scale(0.7550,1.0000)" font-size="96.0" text-anchor="middle" fill="#262626">1</text>
<text transform="translate(1197.3,956.1) scale(0.7550,1.0000)" font-size="96.0" text-anchor="middle" fill="#262626">2</text>
<text transform="translate(1538.5,956.1) scale(0.7550,1.0000)" font-size="96.0" text-anchor="middle" fill="#262626">3</text>
<text transform="translate(1880.3,956.1) scale(0.7550,1.0000)" font-size="96.0" text-anchor="middle" fill="#262626">4</text>
<text transform="translate(2221.8,956.1) scale(0.7550,1.0000)" font-size="96.0" text-anchor="middle" fill="#262626">5</text>
<text transform="translate(0,1049.4) scale(0.8000,1)" font-size="123.6" fill="#262626" style="white-space:pre;font-kerning:none"><tspan x="1490.97" style="letter-spacing:2.372px">Time </tspan><tspan x="1794.56" style="letter-spacing:-0.321px">(s)</tspan></text>
<text transform="translate(655.6,204.0) scale(0.7850,1.0000)" font-size="80.0" text-anchor="end" fill="#262626">500</text>
<text transform="translate(655.6,374.5) scale(0.7850,1.0000)" font-size="80.0" text-anchor="end" fill="#262626">400</text>
<text transform="translate(837.7,495.3) scale(0.7850,1.0000)" font-size="80.0" text-anchor="middle" fill="#262626">2.6</text>
<text transform="translate(1172.0,495.3) scale(0.7850,1.0000)" font-size="80.0" text-anchor="middle" fill="#262626">2.8</text>
<text transform="translate(1507.2,494.5) scale(0.7850,1.0000)" font-size="80.0" text-anchor="middle" fill="#262626">3</text>
<text transform="translate(0,150.2) scale(0.7430,1)" font-size="97.5" fill="#000" style="white-space:pre"><tspan x="2203.33" style="letter-spacing:0.943px">Without </tspan><tspan x="2579.95" style="letter-spacing:-0.850px">variation</tspan></text>
<text transform="translate(0,255.5) scale(0.7430,1)" font-size="97.5" fill="#000" style="white-space:pre"><tspan x="2203.74" style="letter-spacing:0.414px">With </tspan><tspan x="2442.66" style="letter-spacing:-0.934px">variation</tspan></text>
<text transform="translate(0,364.0) scale(0.7650,1)" font-size="96.5" fill="#000" style="white-space:pre"><tspan x="2142.25" style="letter-spacing:2.727px">R</tspan><tspan x="2216.71" style="letter-spacing:-0.673px">eference</tspan></text>
<text transform="translate(85.9,644.3) rotate(-90) scale(1.2166,1.037)" font-size="100" fill="#262626">Torque</text>
<text transform="translate(317,588.2) rotate(-90) scale(1.209,0.98)" font-size="100" fill="#262626">(Nm)</text>
</g>
</svg>
</body></html>
